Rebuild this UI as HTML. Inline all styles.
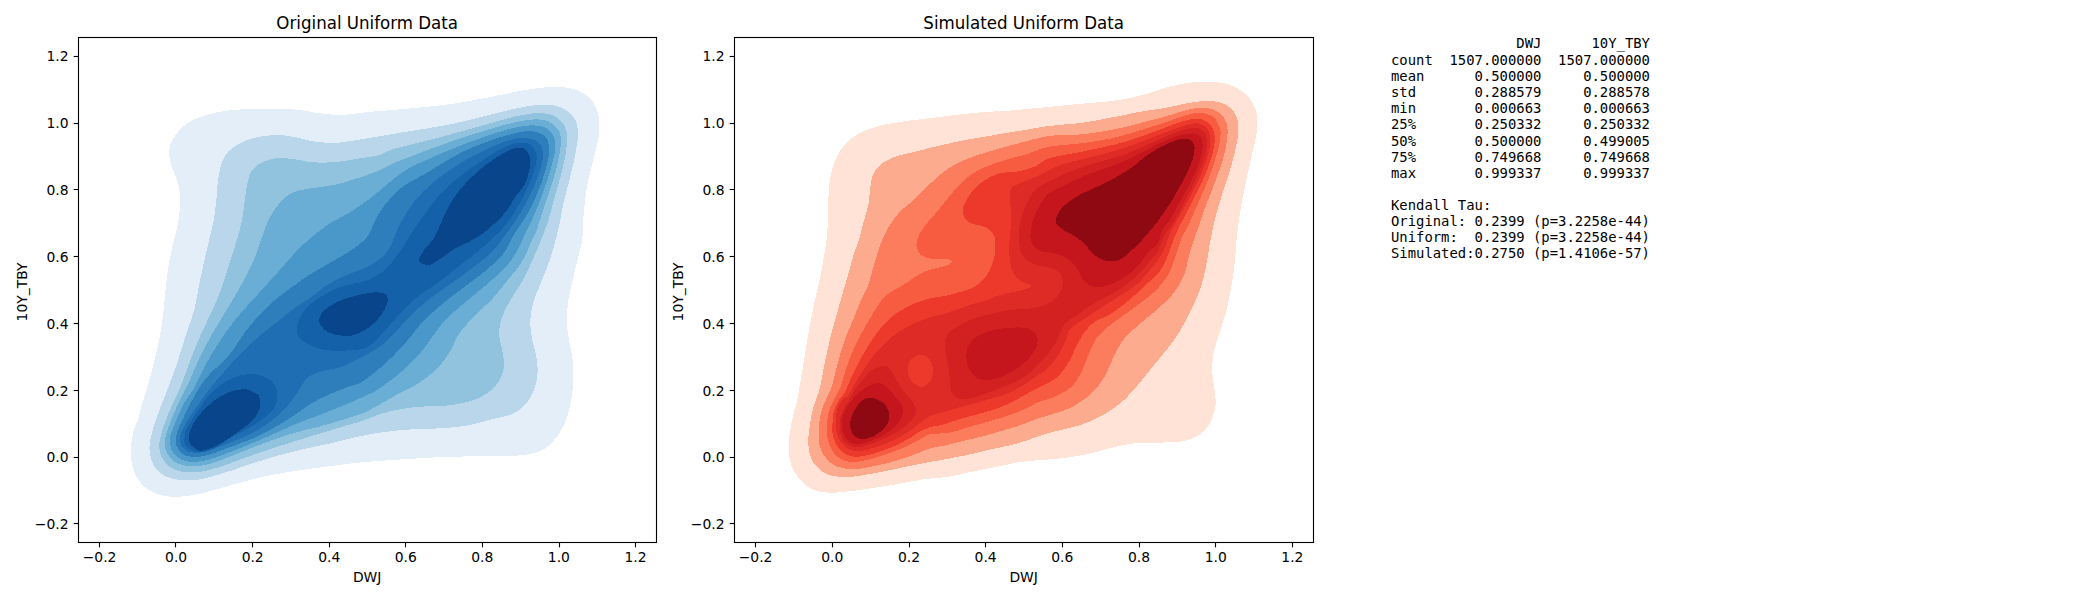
<!DOCTYPE html>
<html lang="en"><head><meta charset="utf-8"><title>Copula KDE comparison</title>
<style>html,body{margin:0;padding:0;background:#fff}svg{display:block}text{font-family:'DejaVu Sans','Liberation Sans',sans-serif;fill:#000}.m{font-family:'DejaVu Sans Mono','Liberation Mono',monospace;white-space:pre}</style></head>
<body>
<svg width="2100" height="600" viewBox="0 0 2100 600">
<rect width="2100" height="600" fill="#fff"/>
<clipPath id="ca"><rect x="78.5" y="37.5" width="578.0" height="505.0"/></clipPath>
<g clip-path="url(#ca)" shape-rendering="crispEdges">
<path d="M138.0 419.9C138.8 417.8 138.9 416.5 139.5 414.3C140.1 412.1 140.7 409.0 141.4 406.6C142.1 404.2 142.8 402.3 143.5 399.8C144.2 397.3 145.1 394.4 145.9 391.7C146.7 389.0 147.5 386.2 148.3 383.4C149.1 380.6 150.0 377.7 150.8 374.7C151.6 371.7 152.4 368.5 153.2 365.5C153.9 362.5 154.6 359.6 155.3 356.8C156.0 354.0 156.7 351.4 157.3 348.8C157.9 346.2 158.4 343.6 158.9 341.0C159.4 338.4 160.0 335.9 160.4 333.3C160.8 330.7 161.2 328.1 161.6 325.5C162.0 322.9 162.4 320.4 162.7 317.8C163.0 315.2 163.3 312.5 163.6 309.9C163.9 307.3 164.2 304.7 164.4 302.1C164.7 299.5 164.8 297.0 165.1 294.4C165.3 291.8 165.6 289.2 165.9 286.6C166.2 284.0 166.5 281.3 166.8 278.7C167.1 276.1 167.4 273.5 167.8 270.9C168.2 268.3 168.5 265.7 169.0 263.1C169.5 260.5 170.0 257.8 170.6 255.2C171.2 252.6 171.7 249.9 172.3 247.4C172.9 244.9 173.5 242.3 174.1 239.9C174.7 237.5 175.3 235.2 175.8 233.0C176.3 230.8 176.9 228.6 177.3 226.4C177.8 224.2 178.2 222.2 178.5 220.0C178.8 217.8 179.2 215.5 179.4 213.2C179.7 210.9 179.9 208.6 180.0 206.4C180.1 204.2 180.2 202.5 180.1 200.0C180.0 197.5 179.9 194.0 179.5 191.2C179.1 188.4 178.6 185.8 177.9 183.3C177.2 180.8 176.3 178.6 175.5 176.4C174.7 174.2 173.7 172.2 172.9 170.0C172.1 167.8 171.4 165.6 170.8 163.4C170.2 161.2 169.7 158.9 169.5 156.7C169.3 154.4 169.2 152.1 169.4 149.9C169.6 147.7 170.0 145.4 170.8 143.3C171.6 141.2 172.8 139.2 174.0 137.3C175.2 135.4 176.7 133.5 178.3 131.7C179.9 129.9 181.7 128.1 183.6 126.4C185.5 124.7 187.6 123.1 190.0 121.7C192.4 120.3 195.0 119.1 197.8 118.0C200.6 116.9 204.2 115.8 206.7 115.0C209.2 114.2 210.8 113.8 212.9 113.3C215.0 112.8 217.1 112.3 219.4 111.9C221.7 111.5 224.1 111.1 226.7 110.7C229.3 110.3 232.2 110.0 235.1 109.8C238.0 109.6 241.2 109.5 244.2 109.3C247.2 109.1 250.3 108.9 253.3 108.8C256.3 108.7 259.3 108.5 262.4 108.5C265.4 108.5 268.7 108.5 271.6 108.5C274.5 108.5 277.4 108.5 280.0 108.6C282.6 108.7 284.9 108.8 287.1 108.9C289.4 109.0 291.4 109.2 293.5 109.4C295.6 109.6 297.7 109.7 299.9 110.0C302.1 110.3 304.4 110.7 306.6 111.1C308.8 111.5 311.0 111.9 313.2 112.3C315.4 112.7 317.7 113.0 319.9 113.3C322.1 113.6 324.4 113.9 326.6 114.1C328.8 114.3 331.0 114.6 333.2 114.7C335.4 114.8 337.7 114.9 339.9 114.9C342.1 114.9 344.4 114.7 346.6 114.5C348.8 114.3 351.0 114.0 353.2 113.8C355.4 113.5 357.6 113.3 359.9 113.0C362.2 112.7 364.5 112.5 366.8 112.2C369.1 112.0 371.5 111.7 373.7 111.5C375.9 111.3 377.9 111.1 379.9 110.9C381.9 110.7 383.5 110.7 385.7 110.5C387.9 110.3 390.9 110.1 393.3 109.9C395.7 109.7 397.6 109.5 400.2 109.3C402.8 109.1 405.8 108.8 408.8 108.5C411.8 108.2 415.0 108.0 418.0 107.7C421.0 107.4 423.9 107.2 426.8 106.9C429.7 106.6 432.4 106.3 435.2 106.0C438.0 105.7 440.8 105.3 443.6 105.0C446.4 104.7 449.1 104.3 451.9 103.9C454.7 103.5 457.4 103.1 460.2 102.6C463.0 102.1 465.8 101.6 468.7 101.1C471.6 100.6 474.5 100.0 477.3 99.5C480.1 99.0 482.9 98.4 485.6 97.9C488.3 97.4 490.6 96.9 493.5 96.3C496.4 95.7 500.0 95.0 503.1 94.4C506.2 93.8 509.1 93.2 512.0 92.6C514.9 92.0 517.6 91.4 520.2 90.9C522.8 90.4 525.1 90.1 527.4 89.7C529.6 89.3 531.6 89.0 533.7 88.7C535.8 88.4 537.9 88.2 540.1 87.9C542.3 87.7 544.6 87.4 546.9 87.2C549.1 87.0 551.4 86.8 553.6 86.8C555.8 86.8 557.5 86.7 560.0 86.9C562.5 87.1 566.0 87.5 568.8 88.0C571.6 88.5 574.2 89.2 576.7 90.1C579.2 91.0 581.8 92.2 584.0 93.6C586.2 95.0 588.4 96.5 590.1 98.3C591.9 100.1 593.3 102.4 594.5 104.6C595.7 106.8 596.6 109.3 597.4 111.7C598.1 114.1 598.7 116.5 599.0 119.0C599.3 121.5 599.4 124.1 599.4 126.8C599.4 129.5 599.1 132.2 598.8 135.0C598.4 137.8 597.8 140.6 597.3 143.3C596.8 146.0 596.2 148.6 595.5 151.4C594.8 154.2 593.9 157.5 593.3 160.0C592.6 162.5 592.2 164.2 591.6 166.4C591.0 168.6 590.5 170.9 589.9 173.2C589.3 175.5 588.8 177.7 588.3 180.0C587.8 182.3 587.4 184.6 587.0 186.8C586.6 189.0 586.3 191.2 586.0 193.4C585.7 195.6 585.4 197.9 585.1 200.1C584.8 202.3 584.5 204.6 584.3 206.8C584.1 209.0 583.9 211.2 583.7 213.4C583.5 215.6 583.3 217.8 583.2 220.1C583.1 222.3 583.0 224.7 582.9 226.9C582.8 229.1 582.8 231.3 582.7 233.5C582.6 235.7 582.4 238.1 582.1 240.3C581.8 242.6 581.4 244.8 580.9 247.0C580.4 249.2 579.7 251.4 579.1 253.6C578.5 255.8 578.0 258.1 577.4 260.3C576.8 262.5 576.3 264.8 575.8 267.0C575.3 269.2 574.7 271.4 574.2 273.6C573.7 275.8 573.2 278.1 572.7 280.3C572.2 282.5 571.6 284.7 571.1 286.9C570.6 289.1 570.1 291.3 569.6 293.5C569.1 295.7 568.7 298.0 568.4 300.2C568.1 302.4 567.8 304.6 567.6 306.8C567.4 309.0 567.1 311.2 567.0 313.4C566.9 315.6 566.9 317.8 566.9 320.0C566.9 322.2 567.0 324.5 567.2 326.7C567.4 328.9 567.7 331.1 568.0 333.3C568.3 335.5 568.6 337.8 569.0 340.0C569.4 342.2 569.8 344.5 570.2 346.7C570.6 348.9 571.2 351.1 571.6 353.3C572.0 355.5 572.3 357.8 572.6 360.0C572.9 362.2 573.1 364.5 573.2 366.7C573.3 368.9 573.4 371.1 573.4 373.3C573.4 375.5 573.4 377.8 573.3 380.0C573.2 382.2 573.1 384.5 572.9 386.7C572.7 388.9 572.5 391.1 572.2 393.3C571.9 395.5 571.5 397.8 571.1 400.0C570.7 402.2 570.2 404.5 569.7 406.8C569.2 409.1 568.8 411.4 568.2 413.6C567.6 415.8 567.2 417.4 566.1 420.0C565.0 422.6 563.4 426.1 561.8 428.9C560.2 431.7 558.5 434.3 556.7 436.7C554.9 439.1 553.2 441.3 551.2 443.2C549.2 445.1 547.2 446.9 545.0 448.3C542.8 449.7 540.5 450.9 538.0 451.8C535.5 452.8 532.4 453.5 530.0 454.0C527.6 454.5 525.9 454.7 523.8 455.0C521.6 455.3 519.4 455.4 517.1 455.6C514.8 455.8 512.4 455.9 510.0 456.0C507.6 456.1 505.1 456.1 502.6 456.1C500.1 456.1 497.5 456.0 494.8 456.0C492.1 456.0 489.4 456.0 486.7 456.0C483.9 456.0 481.2 456.1 478.3 456.1C475.4 456.2 472.6 456.2 469.5 456.3C466.4 456.4 462.9 456.5 460.0 456.6C457.1 456.7 454.8 456.7 452.1 456.8C449.4 456.9 446.6 457.0 443.8 457.1C441.0 457.2 438.1 457.3 435.2 457.4C432.3 457.5 429.5 457.8 426.7 457.9C423.9 458.0 421.2 458.1 418.4 458.3C415.6 458.5 412.8 458.7 410.0 458.9C407.2 459.1 404.3 459.2 401.5 459.4C398.7 459.6 396.1 459.8 393.3 460.0C390.6 460.2 387.8 460.3 385.0 460.5C382.2 460.7 379.4 460.9 376.6 461.1C373.8 461.3 371.1 461.5 368.3 461.7C365.5 461.9 362.8 462.2 360.0 462.5C357.2 462.8 354.4 463.1 351.6 463.4C348.8 463.7 345.9 464.1 343.1 464.5C340.3 464.9 337.5 465.2 334.8 465.6C332.1 466.0 329.3 466.2 326.7 466.6C324.1 467.0 321.5 467.4 319.0 467.7C316.5 468.0 314.0 468.3 311.5 468.6C309.0 468.9 306.6 469.2 304.1 469.6C301.6 470.0 299.2 470.3 296.7 470.7C294.2 471.1 291.6 471.5 289.1 471.9C286.6 472.3 284.0 472.8 281.5 473.2C279.0 473.6 276.5 474.0 274.0 474.5C271.5 475.0 269.5 475.4 266.7 476.0C263.9 476.6 260.4 477.4 257.4 478.1C254.4 478.8 251.4 479.6 248.5 480.4C245.6 481.2 242.8 481.9 240.0 482.7C237.2 483.4 234.6 484.1 232.0 484.9C229.4 485.6 226.9 486.5 224.3 487.2C221.8 487.9 219.3 488.6 216.7 489.3C214.1 490.0 211.5 490.7 208.9 491.4C206.3 492.1 203.7 492.8 201.1 493.4C198.5 494.0 195.9 494.6 193.3 495.0C190.7 495.4 187.9 495.8 185.3 496.1C182.7 496.4 180.0 496.7 177.5 496.8C175.0 496.9 172.9 497.0 170.1 496.7C167.2 496.4 163.4 495.8 160.4 495.0C157.4 494.2 154.6 493.1 151.9 491.7C149.2 490.3 146.7 488.6 144.5 486.6C142.3 484.7 140.2 482.4 138.5 480.0C136.8 477.6 135.5 474.8 134.4 472.0C133.3 469.2 132.5 466.1 131.9 463.3C131.3 460.5 131.0 457.9 130.8 455.1C130.7 452.3 130.8 449.2 131.0 446.6C131.2 444.0 131.5 442.1 131.9 439.7C132.3 437.3 132.8 434.6 133.3 432.4C133.8 430.2 134.0 428.7 134.8 426.6C135.6 424.5 137.2 421.9 138.0 419.9Z" fill="#e3eef9"/>
<path d="M149.6 450.0C149.4 447.7 149.5 445.9 149.7 443.7C149.9 441.5 150.5 438.8 151.0 436.7C151.5 434.6 151.9 432.9 152.5 430.9C153.1 428.8 153.7 426.8 154.4 424.4C155.2 422.0 156.2 419.2 157.0 416.8C157.8 414.4 158.6 412.3 159.5 409.9C160.4 407.5 161.5 404.8 162.5 402.2C163.5 399.6 164.7 396.8 165.7 394.2C166.7 391.6 167.7 389.1 168.6 386.7C169.5 384.3 170.3 382.1 171.1 379.8C171.9 377.5 172.8 375.2 173.6 373.0C174.4 370.8 175.2 368.7 175.9 366.5C176.7 364.3 177.4 362.1 178.1 359.8C178.8 357.6 179.6 355.3 180.3 353.0C181.0 350.7 181.7 348.4 182.4 346.2C183.1 343.9 183.8 341.7 184.5 339.5C185.2 337.3 185.8 335.5 186.6 333.1C187.4 330.7 188.4 327.7 189.3 325.1C190.2 322.5 191.1 319.9 191.9 317.4C192.7 314.8 193.5 312.4 194.2 309.8C194.9 307.2 195.5 304.6 196.0 302.0C196.5 299.4 196.9 296.9 197.4 294.3C197.9 291.7 198.3 289.1 198.8 286.5C199.3 283.9 199.9 281.3 200.4 278.7C200.9 276.1 201.6 273.5 202.1 270.9C202.6 268.3 203.1 265.7 203.7 263.1C204.3 260.5 204.9 257.8 205.5 255.2C206.1 252.6 206.8 249.9 207.4 247.4C208.0 244.9 208.6 242.3 209.1 239.9C209.6 237.5 210.2 235.2 210.7 233.0C211.2 230.8 211.8 228.6 212.3 226.4C212.8 224.2 213.3 222.1 213.7 219.9C214.1 217.7 214.4 215.4 214.7 213.2C215.0 211.0 215.3 208.8 215.6 206.6C215.9 204.4 216.1 202.2 216.3 199.9C216.5 197.7 216.7 195.4 216.9 193.1C217.1 190.8 217.2 188.5 217.4 186.3C217.6 184.1 217.7 182.4 218.1 179.9C218.5 177.4 219.0 173.9 219.6 171.1C220.2 168.3 220.8 165.7 221.6 163.3C222.4 161.0 223.4 158.9 224.5 157.0C225.6 155.1 226.8 153.3 228.3 151.7C229.8 150.1 231.6 148.6 233.5 147.2C235.4 145.8 237.6 144.5 240.0 143.3C242.4 142.1 245.0 140.9 247.8 139.9C250.6 138.9 254.1 138.0 256.7 137.4C259.3 136.8 260.9 136.5 263.2 136.2C265.4 135.9 267.9 135.6 270.2 135.4C272.4 135.2 274.2 135.1 276.7 135.1C279.2 135.1 282.2 135.2 285.0 135.5C287.8 135.8 290.9 136.5 293.3 136.9C295.8 137.3 297.5 137.7 299.7 138.2C301.9 138.7 304.2 139.5 306.5 140.0C308.8 140.5 311.1 140.9 313.3 141.3C315.6 141.7 317.8 142.0 320.0 142.2C322.2 142.4 324.4 142.6 326.6 142.7C328.8 142.8 331.1 142.8 333.3 142.8C335.5 142.8 337.5 142.7 339.6 142.5C341.7 142.3 343.7 141.9 346.0 141.6C348.3 141.3 350.5 141.0 353.2 140.6C355.9 140.2 358.9 139.7 362.0 139.2C365.1 138.7 368.6 138.1 371.5 137.6C374.4 137.1 377.3 136.7 379.7 136.3C382.1 135.9 383.7 135.6 385.9 135.2C388.1 134.8 390.6 134.4 393.0 134.0C395.4 133.6 397.4 133.1 400.0 132.7C402.6 132.3 405.6 131.9 408.6 131.4C411.6 130.9 414.8 130.4 417.8 129.9C420.8 129.4 423.8 129.0 426.7 128.5C429.6 128.0 432.3 127.5 435.1 127.0C437.9 126.5 440.8 126.0 443.6 125.5C446.4 125.0 449.1 124.5 451.9 123.9C454.7 123.3 457.5 122.7 460.3 122.1C463.1 121.5 465.9 120.8 468.7 120.1C471.5 119.4 474.5 118.6 477.3 117.9C480.1 117.2 482.8 116.5 485.5 115.8C488.2 115.1 490.5 114.5 493.4 113.8C496.3 113.1 499.8 112.2 502.9 111.5C505.9 110.8 508.9 110.0 511.7 109.4C514.5 108.8 517.3 108.2 519.9 107.7C522.5 107.2 524.9 106.7 527.2 106.3C529.5 105.9 531.5 105.6 533.6 105.4C535.7 105.2 537.3 105.0 539.8 104.9C542.3 104.8 545.9 104.7 548.7 104.9C551.5 105.1 554.1 105.4 556.4 105.9C558.7 106.5 560.8 107.2 562.7 108.2C564.6 109.2 566.2 110.3 567.9 111.6C569.5 112.9 571.2 114.2 572.6 115.9C574.0 117.6 575.2 119.4 576.0 121.5C576.8 123.6 577.3 125.9 577.6 128.4C577.9 130.9 578.0 134.1 577.9 136.5C577.8 138.9 577.6 140.5 577.3 142.6C577.0 144.7 576.6 147.0 576.2 149.3C575.8 151.6 575.4 154.0 574.9 156.4C574.4 158.8 573.9 161.2 573.3 163.8C572.7 166.4 572.0 169.1 571.4 171.7C570.8 174.3 570.1 177.0 569.5 179.6C568.9 182.2 568.2 184.9 567.5 187.5C566.8 190.1 566.0 192.8 565.4 195.4C564.8 198.0 564.1 200.5 563.6 202.9C563.1 205.3 562.7 207.6 562.2 209.9C561.8 212.2 561.3 214.4 560.9 216.6C560.5 218.8 560.2 220.6 559.7 223.0C559.2 225.4 558.5 228.5 557.8 231.3C557.1 234.1 556.4 237.3 555.7 239.8C555.1 242.3 554.5 244.1 553.9 246.3C553.3 248.5 552.6 250.9 551.9 253.2C551.2 255.5 550.5 257.8 549.7 260.1C548.9 262.4 548.1 264.7 547.3 266.9C546.5 269.1 545.6 271.3 544.7 273.5C543.8 275.7 542.9 278.1 542.0 280.3C541.1 282.6 540.1 284.8 539.2 287.0C538.3 289.2 537.2 291.4 536.4 293.6C535.5 295.8 534.8 298.1 534.1 300.3C533.4 302.5 532.9 304.8 532.4 307.0C531.9 309.2 531.3 311.4 531.0 313.6C530.7 315.8 530.5 318.1 530.4 320.3C530.3 322.5 530.4 324.7 530.5 326.9C530.6 329.1 531.0 331.5 531.3 333.7C531.6 335.9 531.8 337.5 532.4 340.1C533.0 342.7 533.9 346.3 534.6 349.3C535.3 352.3 536.1 355.1 536.6 358.0C537.1 360.9 537.4 363.8 537.5 366.6C537.6 369.4 537.6 372.2 537.4 375.0C537.1 377.8 536.7 380.5 536.0 383.2C535.3 385.9 534.4 388.5 533.4 391.0C532.4 393.5 531.1 396.1 529.7 398.4C528.3 400.7 526.7 403.1 525.0 405.0C523.3 406.9 521.5 408.5 519.3 410.0C517.1 411.5 514.2 413.0 511.9 414.0C509.6 415.0 507.7 415.5 505.3 416.2C502.9 416.9 500.3 417.4 497.7 418.0C495.1 418.6 492.4 419.2 489.9 419.9C487.3 420.5 484.9 421.2 482.4 421.9C479.9 422.6 477.4 423.3 474.8 423.9C472.2 424.5 469.4 425.1 466.6 425.6C463.8 426.1 460.9 426.5 458.0 426.8C455.1 427.1 451.9 427.4 448.9 427.7C445.9 427.9 442.9 428.1 439.9 428.3C436.9 428.5 434.0 428.6 431.0 428.7C428.0 428.8 425.1 428.8 422.1 428.9C419.1 429.0 416.2 429.1 413.2 429.3C410.2 429.5 407.2 429.7 404.3 429.9C401.4 430.1 398.4 430.4 395.5 430.7C392.6 431.0 389.6 431.4 386.6 431.8C383.6 432.2 380.6 432.6 377.7 433.0C374.8 433.4 371.9 433.9 368.9 434.5C365.9 435.1 362.5 435.7 359.8 436.3C357.1 436.9 355.0 437.3 352.5 437.9C350.0 438.5 347.5 439.2 345.0 439.8C342.5 440.4 339.9 441.0 337.3 441.6C334.8 442.2 332.2 442.9 329.7 443.5C327.2 444.1 324.7 444.6 322.1 445.1C319.6 445.6 316.9 446.2 314.4 446.7C311.9 447.2 309.4 447.8 306.9 448.3C304.4 448.9 302.3 449.3 299.6 450.0C296.9 450.7 293.5 451.6 290.5 452.3C287.5 453.1 284.7 453.7 281.8 454.5C278.9 455.3 275.9 456.1 273.0 457.0C270.1 457.9 267.1 458.8 264.1 459.7C261.1 460.6 258.0 461.7 255.1 462.6C252.2 463.6 249.3 464.5 246.6 465.4C243.8 466.3 241.2 467.2 238.6 468.1C236.0 469.0 233.6 469.9 231.0 470.7C228.4 471.5 225.9 472.3 223.3 473.1C220.7 473.9 218.0 474.7 215.4 475.5C212.8 476.3 210.2 477.1 207.6 477.7C205.0 478.3 202.5 478.9 200.1 479.3C197.7 479.7 195.4 479.9 193.1 480.1C190.8 480.3 188.6 480.5 186.4 480.5C184.2 480.5 182.6 480.5 180.1 480.1C177.6 479.7 174.0 479.1 171.2 478.3C168.4 477.5 165.8 476.4 163.5 475.1C161.2 473.8 159.3 472.4 157.7 470.7C156.0 469.0 154.7 467.3 153.6 465.1C152.5 462.9 151.6 460.2 150.9 457.7C150.2 455.2 149.8 452.3 149.6 450.0Z" fill="#b9d6ea"/>
<path d="M159.3 445.4C159.3 443.4 159.5 441.6 159.9 439.4C160.3 437.2 161.0 434.4 161.7 432.1C162.3 429.8 163.0 427.9 163.8 425.6C164.6 423.3 165.7 420.7 166.7 418.2C167.7 415.7 168.6 413.1 169.7 410.6C170.8 408.1 171.8 405.7 173.0 403.2C174.2 400.7 175.5 398.1 176.7 395.5C177.9 392.9 179.2 389.9 180.2 387.5C181.2 385.1 182.0 383.3 182.8 381.1C183.6 378.9 184.4 376.6 185.2 374.4C186.0 372.1 186.9 369.9 187.7 367.6C188.5 365.3 189.3 363.0 190.2 360.7C191.1 358.4 192.0 356.2 192.9 353.9C193.8 351.6 194.7 349.4 195.6 347.1C196.5 344.8 197.5 342.5 198.4 340.3C199.3 338.1 200.1 336.3 201.2 333.9C202.3 331.5 203.8 328.4 205.0 325.8C206.2 323.2 207.5 320.6 208.7 318.0C209.9 315.4 211.2 312.9 212.4 310.3C213.6 307.7 214.6 305.1 215.7 302.5C216.8 299.9 217.9 297.3 219.0 294.7C220.1 292.1 221.1 289.5 222.0 286.9C222.9 284.3 223.8 281.6 224.6 279.0C225.4 276.4 226.2 273.8 227.0 271.2C227.8 268.6 228.6 265.9 229.4 263.3C230.2 260.7 231.2 258.1 232.0 255.5C232.8 252.9 233.7 250.3 234.5 247.7C235.3 245.1 236.1 242.5 236.8 240.0C237.5 237.5 238.2 235.2 238.9 232.8C239.6 230.4 240.1 228.2 240.7 225.7C241.3 223.2 241.9 220.4 242.3 218.0C242.8 215.6 243.1 213.6 243.4 211.2C243.7 208.8 244.0 206.2 244.3 203.7C244.6 201.2 245.0 198.6 245.3 196.3C245.6 194.0 245.8 192.6 246.2 190.0C246.6 187.4 247.3 183.3 248.0 180.5C248.7 177.7 249.3 175.5 250.4 173.3C251.5 171.2 252.8 169.3 254.5 167.6C256.1 165.9 258.0 164.6 260.3 163.3C262.6 162.1 265.4 160.9 268.1 160.1C270.9 159.2 274.0 158.5 276.8 158.2C279.6 157.9 282.1 158.0 284.9 158.2C287.6 158.3 290.8 158.8 293.3 159.1C295.8 159.4 297.5 159.7 299.7 160.1C301.9 160.5 304.2 161.0 306.5 161.4C308.8 161.8 310.5 162.1 313.3 162.3C316.1 162.5 319.8 162.6 323.1 162.6C326.4 162.6 330.3 162.4 333.3 162.2C336.3 162.0 338.3 161.7 340.9 161.4C343.5 161.1 346.2 160.6 348.8 160.2C351.4 159.8 354.0 159.3 356.6 158.9C359.2 158.5 362.0 158.1 364.7 157.7C367.4 157.3 370.3 156.9 372.9 156.4C375.4 155.9 377.8 155.5 380.0 154.8C382.2 154.1 383.8 153.2 386.0 152.2C388.2 151.2 391.0 149.8 393.4 149.0C395.8 148.2 397.7 147.8 400.3 147.1C402.9 146.4 405.9 145.7 408.9 145.0C411.9 144.3 415.1 143.4 418.1 142.7C421.1 142.0 424.0 141.3 426.9 140.6C429.8 139.9 432.4 139.2 435.2 138.5C438.0 137.8 440.9 137.0 443.7 136.2C446.5 135.4 449.2 134.7 452.0 133.9C454.8 133.2 457.5 132.4 460.3 131.7C463.1 130.9 465.9 130.2 468.8 129.4C471.7 128.6 474.7 127.7 477.5 126.9C480.3 126.1 483.2 125.2 485.8 124.5C488.4 123.8 490.6 123.2 493.3 122.4C496.0 121.7 499.2 120.7 501.9 120.0C504.6 119.3 506.9 118.6 509.3 118.0C511.7 117.4 514.0 116.8 516.4 116.3C518.8 115.8 521.2 115.3 523.5 114.9C525.8 114.5 528.0 114.1 530.1 113.8C532.2 113.5 533.9 113.3 536.2 113.2C538.6 113.1 541.8 113.1 544.2 113.4C546.7 113.7 548.8 114.1 550.9 114.8C553.0 115.5 555.0 116.3 556.7 117.4C558.4 118.5 559.9 119.9 561.2 121.4C562.5 122.9 563.8 124.6 564.7 126.5C565.6 128.4 566.3 130.5 566.7 132.8C567.1 135.1 567.2 137.6 567.1 140.4C567.0 143.2 566.6 146.7 566.3 149.4C566.0 152.1 565.7 154.0 565.2 156.5C564.7 159.0 564.1 161.6 563.5 164.3C562.9 167.0 562.3 169.7 561.6 172.5C560.9 175.3 560.1 178.3 559.3 181.3C558.5 184.3 557.5 187.5 556.6 190.5C555.7 193.5 554.9 196.4 554.1 199.2C553.3 201.9 552.7 204.5 552.0 207.0C551.3 209.5 550.8 211.9 550.1 214.3C549.5 216.7 548.8 219.0 548.1 221.2C547.4 223.4 546.6 225.6 545.8 227.7C545.0 229.8 544.3 231.7 543.5 233.8C542.7 235.9 541.8 237.9 540.9 240.1C540.0 242.3 539.2 244.5 538.3 246.8C537.3 249.1 536.2 251.5 535.2 253.8C534.2 256.1 533.2 258.3 532.2 260.5C531.2 262.7 530.4 265.0 529.4 267.1C528.4 269.2 527.5 271.3 526.4 273.4C525.3 275.5 524.2 277.7 523.0 279.8C521.8 281.9 520.5 284.1 519.1 286.2C517.8 288.3 516.2 290.4 514.9 292.5C513.6 294.6 512.4 296.8 511.1 299.0C509.9 301.2 508.6 303.4 507.4 305.6C506.2 307.8 505.0 310.2 504.0 312.4C503.0 314.6 502.3 316.3 501.6 318.8C500.9 321.3 500.0 324.7 499.6 327.5C499.2 330.3 499.0 333.0 499.2 335.8C499.4 338.6 500.2 341.5 500.8 344.3C501.4 347.1 502.2 350.0 502.7 352.7C503.2 355.4 503.6 357.9 503.8 360.5C504.0 363.1 504.1 365.4 503.7 368.0C503.3 370.6 502.6 373.3 501.6 375.8C500.6 378.3 499.3 380.9 497.6 383.2C495.9 385.5 493.8 387.7 491.6 389.7C489.4 391.7 486.8 393.5 484.2 395.1C481.6 396.7 479.0 398.0 476.2 399.1C473.4 400.2 469.9 401.2 467.3 401.9C464.8 402.6 463.1 402.9 460.9 403.4C458.7 403.8 456.4 404.2 454.1 404.6C451.8 405.0 449.4 405.3 447.0 405.5C444.6 405.7 442.0 405.9 439.4 406.0C436.8 406.1 434.0 406.0 431.4 406.1C428.8 406.2 426.1 406.3 423.5 406.5C420.9 406.7 418.2 406.8 415.6 407.1C413.0 407.4 410.3 407.8 407.7 408.1C405.1 408.5 402.6 408.8 400.2 409.2C397.8 409.6 395.5 410.1 393.2 410.6C390.9 411.1 388.7 411.7 386.5 412.3C384.3 412.9 382.7 413.3 380.2 414.1C377.7 414.9 374.3 416.2 371.5 417.3C368.7 418.4 366.0 419.6 363.4 420.5C360.8 421.4 358.5 422.0 355.7 422.8C352.9 423.6 349.6 424.6 346.8 425.4C344.0 426.2 341.5 426.9 338.6 427.8C335.7 428.7 332.5 429.7 329.4 430.6C326.3 431.6 323.1 432.6 320.0 433.5C316.9 434.4 314.1 435.3 311.1 436.2C308.1 437.1 305.2 438.1 302.2 439.0C299.2 439.9 296.3 440.9 293.3 441.8C290.3 442.7 287.3 443.7 284.3 444.6C281.3 445.5 278.2 446.4 275.3 447.3C272.4 448.2 269.6 449.2 266.8 450.1C264.1 451.1 261.4 452.1 258.8 453.0C256.2 453.9 253.7 454.8 251.1 455.7C248.5 456.6 246.0 457.5 243.4 458.4C240.8 459.3 238.1 460.3 235.5 461.3C232.9 462.3 230.2 463.3 227.6 464.2C225.0 465.1 222.5 466.0 220.1 466.8C217.7 467.6 215.4 468.3 213.1 468.9C210.8 469.5 208.5 470.1 206.3 470.6C204.1 471.1 202.5 471.5 200.0 471.8C197.5 472.1 194.0 472.5 191.2 472.5C188.4 472.5 185.8 472.3 183.3 471.9C180.8 471.5 178.3 470.8 176.1 470.0C173.9 469.2 171.8 468.3 170.0 467.0C168.2 465.7 166.6 464.1 165.2 462.4C163.8 460.7 162.6 458.8 161.7 457.0C160.8 455.2 160.2 453.4 159.8 451.5C159.4 449.6 159.3 447.4 159.3 445.4Z" fill="#91c3de"/>
<path d="M164.7 441.8C164.5 438.9 165.2 437.9 165.8 435.7C166.4 433.5 167.3 430.7 168.1 428.4C168.9 426.1 169.6 424.3 170.5 422.0C171.4 419.7 172.5 417.0 173.5 414.5C174.5 412.0 175.6 409.4 176.7 406.9C177.8 404.4 179.0 401.9 180.3 399.4C181.6 396.8 183.0 394.3 184.3 391.6C185.6 388.9 187.2 385.8 188.3 383.4C189.5 381.0 190.2 379.2 191.2 377.0C192.1 374.8 193.0 372.5 194.0 370.2C195.0 367.9 196.1 365.6 197.1 363.4C198.1 361.2 199.1 359.0 200.2 356.8C201.3 354.6 202.4 352.4 203.5 350.2C204.6 348.0 205.8 345.6 207.0 343.4C208.2 341.2 209.4 338.9 210.6 336.8C211.8 334.7 212.8 332.9 214.2 330.5C215.6 328.1 217.3 325.2 218.9 322.6C220.5 320.0 222.0 317.4 223.5 314.9C225.0 312.4 226.5 309.9 228.1 307.4C229.7 304.9 231.2 302.3 232.8 299.7C234.4 297.1 235.9 294.5 237.4 291.9C238.9 289.3 240.4 286.8 241.8 284.2C243.2 281.6 244.6 278.9 246.0 276.3C247.4 273.7 248.8 270.9 250.0 268.3C251.2 265.7 252.5 263.1 253.5 260.7C254.5 258.3 255.4 256.0 256.2 253.7C257.0 251.4 257.7 249.2 258.5 247.0C259.3 244.8 260.0 242.6 260.8 240.3C261.6 238.0 262.5 235.6 263.3 233.3C264.1 231.0 264.9 228.5 265.8 226.3C266.7 224.1 267.3 222.4 268.6 219.9C269.9 217.4 271.8 213.8 273.6 211.1C275.4 208.4 277.4 205.8 279.3 203.5C281.2 201.2 283.1 199.1 285.3 197.3C287.5 195.5 290.4 193.8 292.6 192.7C294.8 191.6 296.5 191.3 298.7 190.7C300.9 190.1 303.2 189.6 305.6 189.2C308.0 188.8 310.5 188.5 313.0 188.1C315.5 187.7 318.1 187.4 320.7 187.0C323.3 186.6 326.0 186.2 328.7 185.8C331.4 185.4 334.0 184.9 336.6 184.3C339.2 183.7 341.9 183.1 344.5 182.3C347.1 181.6 349.8 180.6 352.4 179.8C355.0 179.0 357.4 178.2 359.9 177.4C362.3 176.6 364.8 175.8 367.1 175.0C369.4 174.2 371.8 173.3 373.9 172.5C376.0 171.7 378.0 171.2 380.0 170.3C382.0 169.4 383.6 168.2 385.9 167.0C388.2 165.8 391.2 164.1 393.6 163.0C396.1 161.9 398.0 161.3 400.6 160.3C403.2 159.3 406.3 158.2 409.3 157.0C412.3 155.8 415.5 154.6 418.5 153.4C421.5 152.2 424.4 151.2 427.3 150.1C430.2 149.0 432.8 148.0 435.6 147.0C438.4 146.0 441.1 145.1 443.9 144.1C446.6 143.1 449.4 142.1 452.1 141.2C454.8 140.2 457.5 139.3 460.3 138.4C463.1 137.5 466.0 136.5 468.8 135.6C471.6 134.7 474.6 133.8 477.4 132.9C480.2 132.0 483.0 131.1 485.7 130.3C488.4 129.5 490.6 128.8 493.3 128.0C496.0 127.2 499.2 126.3 501.9 125.6C504.6 124.9 507.0 124.3 509.4 123.7C511.8 123.1 513.6 122.6 516.4 122.0C519.2 121.4 523.0 120.6 526.0 120.2C529.0 119.8 531.7 119.5 534.4 119.4C537.1 119.4 539.8 119.5 542.3 119.9C544.8 120.3 546.5 120.1 549.1 121.6C551.7 123.1 556.0 126.9 557.9 129.1C559.8 131.2 559.7 132.4 560.2 134.5C560.7 136.6 560.9 138.8 560.9 141.4C560.9 144.0 560.6 146.8 560.2 149.8C559.8 152.8 559.0 156.8 558.4 159.6C557.8 162.4 557.4 164.4 556.8 166.9C556.2 169.4 555.5 172.0 554.7 174.7C553.9 177.3 553.0 180.4 552.2 182.8C551.4 185.2 550.8 187.1 550.1 189.4C549.4 191.7 548.6 194.1 547.8 196.4C547.0 198.7 546.2 201.1 545.5 203.3C544.8 205.5 544.2 207.3 543.4 209.7C542.6 212.0 541.7 214.9 540.9 217.4C540.1 219.9 539.2 222.3 538.5 224.5C537.8 226.7 537.8 227.8 536.6 230.5C535.5 233.2 532.9 238.1 531.6 240.9C530.3 243.7 530.0 244.8 529.0 247.1C528.0 249.3 527.0 252.0 525.8 254.4C524.6 256.8 523.3 259.2 521.9 261.5C520.5 263.8 519.1 266.0 517.5 268.1C515.9 270.2 514.2 272.3 512.5 274.4C510.8 276.5 508.9 278.7 507.2 280.8C505.4 282.9 503.8 285.1 502.0 287.2C500.2 289.3 498.5 291.6 496.7 293.7C494.9 295.8 493.1 298.0 491.2 300.0C489.3 302.0 487.2 303.9 485.2 305.8C483.2 307.7 481.1 309.6 479.1 311.5C477.1 313.4 475.1 315.2 473.3 317.1C471.5 319.0 469.8 320.9 468.1 322.8C466.4 324.7 464.7 326.6 463.1 328.5C461.6 330.4 460.2 331.8 458.8 334.1C457.4 336.4 455.9 339.7 454.5 342.5C453.1 345.3 451.7 348.6 450.4 351.0C449.1 353.4 447.9 354.9 446.5 356.9C445.1 358.9 443.7 361.0 442.1 362.9C440.5 364.8 438.9 366.7 437.1 368.5C435.3 370.3 433.4 372.1 431.3 373.8C429.2 375.5 427.0 377.2 424.8 378.8C422.6 380.4 420.3 382.1 417.9 383.6C415.5 385.1 413.0 386.5 410.5 387.9C408.0 389.2 405.3 390.4 402.8 391.7C400.3 393.0 397.8 394.2 395.4 395.5C393.0 396.8 390.7 398.2 388.4 399.5C386.1 400.8 383.9 402.1 381.8 403.3C379.7 404.5 378.1 405.4 375.9 406.6C373.7 407.8 370.9 409.4 368.7 410.5C366.5 411.6 365.4 412.4 362.7 413.4C360.0 414.4 355.2 415.7 352.6 416.5C350.0 417.3 349.1 417.7 347.0 418.4C344.9 419.1 342.3 419.9 339.9 420.7C337.5 421.5 334.9 422.3 332.4 423.0C329.9 423.7 327.4 424.5 325.0 425.1C322.6 425.8 320.3 426.3 318.0 426.9C315.7 427.5 313.5 428.1 311.2 428.6C308.9 429.2 306.6 429.6 304.3 430.2C302.0 430.8 299.7 431.5 297.4 432.1C295.1 432.8 292.8 433.4 290.5 434.1C288.2 434.8 285.7 435.6 283.4 436.4C281.1 437.2 278.8 437.9 276.6 438.7C274.4 439.5 272.5 440.1 270.1 441.0C267.7 441.9 264.7 443.0 262.1 444.0C259.5 445.0 256.9 445.9 254.3 446.9C251.7 447.9 249.3 448.9 246.7 449.9C244.1 450.9 241.4 452.0 238.7 453.1C236.0 454.2 233.3 455.4 230.7 456.4C228.1 457.4 226.0 458.2 223.2 459.3C220.3 460.4 216.6 461.8 213.6 462.7C210.6 463.6 207.8 464.4 204.9 465.0C202.0 465.6 198.9 466.0 196.1 466.2C193.3 466.4 190.6 466.4 188.0 466.1C185.4 465.8 183.0 465.2 180.8 464.5C178.6 463.8 177.0 463.7 174.7 461.8C172.4 459.9 168.7 456.7 167.0 453.4C165.3 450.1 164.9 444.8 164.7 441.8Z" fill="#6aaed6"/>
<path d="M169.8 439.4C169.8 436.7 170.5 435.7 171.2 433.4C171.9 431.1 173.0 428.2 174.0 425.8C175.0 423.4 175.9 421.2 177.0 418.7C178.1 416.2 179.3 413.2 180.5 410.6C181.7 408.0 182.6 405.7 183.9 403.3C185.2 400.9 186.9 398.8 188.5 396.5C190.1 394.2 191.9 391.7 193.3 389.3C194.7 386.9 195.7 384.6 197.0 382.0C198.3 379.4 199.7 376.2 201.1 373.4C202.5 370.6 204.0 367.7 205.5 365.0C207.0 362.3 208.4 359.7 210.0 357.0C211.6 354.3 213.2 351.6 214.9 349.0C216.6 346.4 218.5 343.4 220.0 341.1C221.5 338.8 222.7 337.2 224.0 335.2C225.3 333.2 226.7 331.2 228.1 329.3C229.5 327.4 230.9 325.4 232.4 323.5C233.9 321.6 235.3 319.6 236.9 317.7C238.5 315.8 240.1 313.8 241.8 311.9C243.5 310.0 245.2 308.1 246.9 306.2C248.6 304.3 250.4 302.2 252.2 300.3C253.9 298.4 255.6 296.6 257.4 294.7C259.1 292.8 260.9 290.8 262.7 288.9C264.5 286.9 266.2 284.9 268.0 283.0C269.8 281.1 271.5 279.1 273.2 277.2C274.9 275.3 276.4 273.9 278.2 271.8C280.0 269.8 282.2 267.1 284.2 264.9C286.1 262.7 288.0 260.5 289.9 258.4C291.8 256.3 293.6 254.3 295.5 252.3C297.4 250.3 299.3 248.4 301.2 246.6C303.1 244.8 304.9 243.1 306.8 241.4C308.7 239.7 310.7 238.0 312.7 236.3C314.7 234.6 316.9 232.9 319.0 231.2C321.1 229.5 323.5 227.8 325.6 226.3C327.7 224.8 329.4 223.6 331.7 222.2C334.0 220.8 336.7 219.4 339.3 218.1C341.9 216.8 344.7 215.5 347.1 214.1C349.5 212.7 351.5 211.2 353.9 209.7C356.2 208.1 358.9 206.4 361.2 204.8C363.5 203.2 365.6 201.7 367.8 200.1C370.0 198.5 372.1 196.8 374.4 195.0C376.6 193.2 379.3 190.9 381.3 189.2C383.3 187.5 384.5 186.5 386.4 185.0C388.2 183.5 390.4 181.8 392.4 180.1C394.4 178.4 396.6 176.6 398.6 175.0C400.7 173.4 402.4 172.2 404.7 170.8C406.9 169.4 409.6 167.8 412.1 166.5C414.6 165.2 417.0 164.2 419.6 163.0C422.2 161.8 425.3 160.5 428.0 159.3C430.7 158.1 433.0 157.1 435.6 155.9C438.2 154.7 441.1 153.5 443.9 152.3C446.7 151.1 449.7 150.0 452.5 148.8C455.3 147.7 458.1 146.5 460.9 145.4C463.7 144.3 466.6 143.2 469.4 142.1C472.2 141.0 475.1 140.1 477.9 139.1C480.7 138.1 483.5 137.2 486.1 136.3C488.7 135.4 490.8 134.6 493.5 133.7C496.2 132.8 499.5 131.8 502.2 131.0C504.9 130.2 507.4 129.5 509.8 128.9C512.2 128.3 514.0 127.8 516.6 127.3C519.2 126.8 522.6 126.1 525.3 125.8C528.0 125.5 530.4 125.4 532.9 125.4C535.4 125.5 537.8 125.7 540.0 126.1C542.2 126.5 543.7 126.4 545.9 127.9C548.1 129.4 551.7 131.9 553.3 135.0C554.9 138.1 555.4 143.3 555.5 146.6C555.6 149.9 554.8 152.0 554.2 155.0C553.6 158.0 552.5 161.9 551.8 164.7C551.1 167.4 550.7 169.2 550.0 171.5C549.3 173.8 548.6 176.2 547.8 178.7C547.0 181.2 546.1 183.7 545.2 186.3C544.3 188.9 543.4 191.7 542.4 194.5C541.4 197.3 540.2 200.3 539.1 203.1C538.0 205.9 536.9 208.7 535.7 211.4C534.5 214.1 533.3 216.8 532.1 219.5C530.9 222.2 529.6 224.7 528.4 227.3C527.1 229.9 525.8 232.5 524.6 235.1C523.4 237.7 522.3 240.2 521.1 242.7C519.9 245.2 518.9 247.7 517.6 250.1C516.3 252.5 514.9 254.9 513.4 257.1C511.9 259.3 510.2 261.4 508.5 263.5C506.8 265.6 504.9 267.4 503.0 269.4C501.1 271.4 499.0 273.4 496.9 275.4C494.8 277.4 492.6 279.4 490.4 281.4C488.1 283.4 485.8 285.4 483.4 287.3C481.0 289.2 478.7 291.2 476.3 293.1C473.9 295.1 471.6 297.0 469.2 299.0C466.8 301.0 464.4 302.9 462.1 304.9C459.8 306.8 457.5 308.8 455.4 310.7C453.3 312.6 451.3 314.4 449.4 316.3C447.5 318.2 445.6 319.9 443.9 321.8C442.1 323.7 440.5 325.7 438.9 327.7C437.3 329.7 435.9 331.8 434.4 333.8C432.9 335.9 431.6 337.9 430.1 340.0C428.6 342.1 427.2 344.2 425.6 346.3C424.0 348.4 422.2 350.6 420.4 352.7C418.6 354.8 416.7 356.9 414.8 359.0C412.9 361.1 411.0 363.1 409.0 365.0C407.0 366.9 404.8 368.9 402.7 370.7C400.6 372.5 398.3 374.3 396.2 376.0C394.1 377.7 391.9 379.3 389.8 380.9C387.7 382.5 385.7 384.0 383.7 385.4C381.7 386.8 379.8 388.2 378.0 389.4C376.2 390.6 375.4 391.2 372.9 392.5C370.3 393.8 366.1 395.4 362.7 397.0C359.3 398.6 355.1 400.6 352.4 401.8C349.7 403.0 348.8 403.2 346.6 404.1C344.5 405.0 341.9 406.0 339.5 407.0C337.1 408.0 334.5 409.1 332.0 410.1C329.5 411.1 327.1 412.1 324.7 413.0C322.3 413.9 320.1 414.8 317.8 415.7C315.5 416.6 313.3 417.4 311.1 418.2C308.9 419.0 306.6 419.8 304.4 420.7C302.1 421.6 299.9 422.4 297.6 423.3C295.4 424.2 293.2 425.2 290.9 426.2C288.6 427.2 286.2 428.3 283.9 429.3C281.6 430.3 279.3 431.3 277.1 432.3C274.9 433.3 273.1 434.1 270.7 435.2C268.3 436.3 265.2 437.6 262.5 438.8C259.8 440.0 257.2 441.1 254.6 442.2C252.0 443.3 249.6 444.3 247.0 445.4C244.4 446.4 241.8 447.5 239.2 448.5C236.6 449.5 234.1 450.6 231.7 451.5C229.3 452.4 227.4 453.1 224.6 454.2C221.8 455.2 217.8 456.8 214.7 457.8C211.6 458.8 208.7 459.7 205.8 460.3C203.0 460.9 200.2 461.4 197.6 461.7C195.0 462.0 192.7 462.1 190.4 461.9C188.1 461.7 186.0 461.2 184.0 460.5C182.0 459.8 180.7 459.7 178.6 457.9C176.5 456.1 172.9 452.6 171.4 449.5C169.9 446.4 169.8 442.1 169.8 439.4Z" fill="#4a98c9"/>
<path d="M176.2 435.9C176.6 432.9 177.7 430.8 178.8 427.9C179.9 425.0 181.8 421.4 183.0 418.7C184.2 416.0 185.1 414.1 186.3 411.7C187.5 409.3 188.8 406.6 190.1 404.1C191.4 401.6 192.7 399.2 194.0 396.8C195.3 394.4 196.5 392.2 197.9 390.0C199.3 387.8 200.6 385.6 202.2 383.4C203.8 381.2 205.8 378.8 207.4 376.8C209.1 374.9 210.4 373.4 212.1 371.7C213.8 370.0 215.7 368.4 217.5 366.7C219.3 365.0 221.3 363.2 223.1 361.5C224.9 359.8 226.6 358.1 228.2 356.2C229.8 354.3 231.2 352.3 232.7 350.3C234.1 348.3 235.5 346.3 236.9 344.2C238.3 342.1 239.6 339.9 241.0 337.9C242.4 335.8 243.8 333.8 245.2 331.9C246.6 329.9 248.1 328.0 249.6 326.2C251.1 324.4 252.6 322.6 254.1 320.8C255.6 319.0 257.2 317.3 258.8 315.6C260.4 313.9 262.0 312.2 263.7 310.5C265.4 308.8 267.1 307.2 268.8 305.6C270.5 304.0 272.3 302.3 274.1 300.7C275.9 299.1 277.8 297.7 279.7 296.2C281.6 294.7 283.3 293.5 285.5 291.9C287.7 290.2 290.6 288.1 293.1 286.3C295.6 284.5 298.1 282.6 300.6 280.8C303.1 279.0 305.7 277.3 308.2 275.7C310.7 274.1 313.2 272.7 315.6 271.2C318.1 269.7 320.4 268.3 322.9 266.9C325.3 265.5 327.8 264.0 330.3 262.6C332.8 261.2 335.3 259.8 337.8 258.3C340.3 256.9 342.9 255.4 345.3 253.9C347.7 252.4 350.1 251.0 352.2 249.6C354.3 248.2 356.3 246.7 358.1 245.3C359.9 243.9 361.7 242.4 363.2 241.0C364.7 239.6 366.0 238.6 367.3 236.8C368.6 235.0 369.8 232.5 370.9 230.3C372.0 228.1 372.6 225.9 373.7 223.5C374.8 221.1 376.0 218.7 377.5 216.1C379.0 213.5 380.9 210.4 382.6 208.0C384.3 205.6 385.9 203.8 387.7 201.6C389.5 199.4 391.6 196.8 393.7 194.6C395.8 192.4 398.0 190.3 400.4 188.4C402.8 186.5 405.2 185.0 407.8 183.4C410.4 181.8 413.0 180.5 415.7 179.0C418.4 177.5 421.5 175.9 423.9 174.5C426.3 173.1 428.1 172.1 430.1 170.8C432.2 169.6 434.1 168.3 436.2 167.0C438.3 165.7 440.5 164.5 442.6 163.2C444.8 161.9 446.9 160.5 449.1 159.2C451.3 157.9 453.6 156.7 455.9 155.4C458.2 154.2 460.7 152.9 463.1 151.7C465.5 150.5 468.1 149.4 470.5 148.3C472.9 147.2 474.9 146.4 477.6 145.3C480.3 144.2 483.8 142.9 486.8 141.8C489.8 140.7 492.8 139.6 495.6 138.7C498.4 137.8 501.1 136.9 503.7 136.2C506.3 135.4 508.8 134.8 511.1 134.2C513.4 133.6 515.6 132.9 517.7 132.5C519.8 132.1 521.3 131.7 523.5 131.5C525.7 131.3 528.7 131.2 530.9 131.3C533.1 131.4 534.3 131.1 536.8 132.2C539.3 133.3 544.0 135.0 546.1 137.7C548.2 140.4 549.0 145.5 549.4 148.6C549.8 151.7 549.0 153.5 548.6 156.3C548.2 159.1 547.3 162.6 546.7 165.2C546.1 167.8 545.6 169.6 544.9 171.9C544.2 174.2 543.4 176.8 542.6 179.3C541.8 181.8 541.0 184.2 540.0 186.7C539.0 189.2 538.0 191.8 536.9 194.4C535.8 197.0 534.7 199.6 533.5 202.2C532.3 204.8 531.2 207.2 529.8 209.8C528.4 212.4 526.8 215.1 525.2 217.7C523.6 220.3 521.6 223.1 520.1 225.4C518.6 227.7 517.5 229.3 516.2 231.3C514.9 233.3 513.5 235.5 512.4 237.4C511.3 239.3 510.7 240.6 509.7 242.5C508.7 244.4 507.7 246.8 506.4 249.0C505.1 251.2 503.8 253.3 502.1 255.4C500.4 257.4 498.4 259.4 496.4 261.3C494.3 263.2 492.0 265.2 489.8 267.1C487.6 269.0 485.3 271.0 483.0 272.8C480.7 274.6 478.5 276.4 476.2 278.2C473.9 280.0 471.4 281.7 469.1 283.4C466.8 285.1 464.5 286.9 462.2 288.6C459.9 290.3 457.6 292.0 455.3 293.8C453.0 295.6 450.6 297.4 448.3 299.2C446.0 301.0 443.8 302.8 441.6 304.6C439.4 306.4 437.3 308.3 435.2 310.1C433.1 311.9 431.0 313.7 429.0 315.6C427.0 317.5 425.0 319.4 423.2 321.3C421.4 323.2 419.7 325.1 418.1 327.0C416.5 328.9 415.0 331.0 413.5 333.0C412.0 335.0 410.5 336.9 408.9 338.8C407.3 340.7 405.6 342.6 403.9 344.5C402.2 346.4 400.4 348.3 398.7 350.1C397.0 351.9 395.4 353.7 393.6 355.5C391.8 357.3 390.0 359.0 388.1 360.7C386.2 362.4 384.3 364.2 382.4 365.9C380.5 367.5 379.2 368.7 376.9 370.6C374.6 372.5 371.3 375.2 368.6 377.2C365.9 379.2 363.2 381.2 360.9 382.5C358.6 383.8 356.9 384.2 354.7 384.9C352.5 385.6 350.1 386.1 347.9 386.9C345.7 387.6 343.8 388.5 341.6 389.4C339.4 390.3 336.9 391.2 334.6 392.2C332.3 393.1 330.4 394.0 327.9 395.1C325.4 396.2 322.1 397.6 319.4 399.0C316.6 400.4 314.1 401.9 311.4 403.5C308.7 405.1 306.1 406.9 303.4 408.8C300.7 410.7 297.4 413.1 295.0 414.8C292.6 416.5 291.0 417.5 288.9 418.9C286.8 420.2 284.6 421.5 282.3 422.9C280.0 424.2 277.8 425.6 275.3 427.0C272.9 428.4 270.2 429.8 267.6 431.2C265.0 432.6 262.2 434.0 259.5 435.3C256.8 436.6 254.1 437.9 251.4 439.0C248.7 440.1 246.1 441.1 243.5 442.1C240.9 443.1 238.3 444.2 235.8 445.1C233.3 446.0 231.4 446.6 228.5 447.7C225.6 448.8 221.7 450.4 218.5 451.5C215.3 452.6 212.3 453.8 209.5 454.6C206.7 455.4 204.0 456.1 201.4 456.5C198.8 456.9 196.5 457.2 194.2 457.1C191.9 457.0 189.6 456.7 187.7 456.1C185.8 455.6 184.3 455.5 182.5 453.8C180.7 452.1 177.7 449.0 176.6 446.0C175.5 443.0 175.8 438.9 176.2 435.9Z" fill="#2e7ebc"/>
<path d="M180.1 437.5C180.2 435.1 181.1 433.5 182.0 431.3C182.9 429.1 184.0 426.6 185.4 424.1C186.8 421.6 188.4 418.9 190.2 416.2C192.0 413.4 194.4 410.1 196.1 407.6C197.8 405.1 199.0 403.4 200.6 401.2C202.2 399.0 203.9 396.5 205.5 394.3C207.1 392.1 208.8 389.9 210.4 387.9C212.0 385.9 213.5 384.0 215.1 382.1C216.7 380.2 218.2 378.5 219.8 376.7C221.4 374.9 222.9 373.2 224.4 371.5C225.9 369.8 227.5 368.0 229.0 366.3C230.5 364.6 231.9 362.9 233.4 361.3C234.9 359.7 236.0 358.4 237.9 356.5C239.8 354.6 242.6 351.8 244.8 349.7C247.0 347.6 249.3 345.4 251.2 343.6C253.1 341.8 254.3 340.6 256.0 339.1C257.6 337.6 259.4 336.0 261.1 334.6C262.8 333.2 264.4 332.0 266.2 330.6C268.0 329.2 270.1 327.5 272.0 326.0C273.9 324.5 275.9 323.0 277.8 321.5C279.7 320.0 281.5 318.6 283.3 317.1C285.1 315.6 287.0 314.0 288.8 312.5C290.6 311.0 292.0 309.8 294.3 308.2C296.6 306.6 299.7 304.6 302.4 302.8C305.1 301.0 308.4 299.1 310.7 297.5C313.0 295.9 314.2 294.7 316.0 293.3C317.8 291.9 319.5 290.5 321.3 289.1C323.1 287.7 325.0 286.4 327.0 285.1C329.0 283.8 331.2 282.7 333.4 281.5C335.6 280.3 337.8 279.1 340.1 278.0C342.4 276.9 344.7 275.8 347.0 274.8C349.3 273.8 351.6 273.1 353.9 272.2C356.2 271.3 358.5 270.6 360.8 269.7C363.1 268.8 365.3 267.9 367.5 266.8C369.7 265.7 371.8 264.3 373.9 263.0C375.9 261.7 378.0 260.4 379.8 259.0C381.6 257.6 383.2 256.5 384.8 254.7C386.4 252.9 388.1 250.4 389.4 248.2C390.7 246.0 391.6 243.7 392.7 241.3C393.8 238.9 394.6 236.5 395.7 233.8C396.8 231.1 398.1 227.9 399.4 225.3C400.7 222.7 402.0 220.7 403.5 218.2C405.0 215.7 406.5 212.9 408.2 210.3C409.9 207.7 411.9 204.8 413.5 202.7C415.1 200.6 416.3 199.3 417.8 197.6C419.3 195.9 420.7 194.3 422.3 192.7C423.9 191.1 425.6 189.4 427.3 187.8C429.0 186.2 430.7 184.7 432.6 183.1C434.5 181.5 436.5 179.8 438.6 178.2C440.7 176.6 442.8 175.0 445.0 173.4C447.2 171.8 449.6 170.3 451.8 168.8C454.0 167.3 456.2 165.8 458.4 164.4C460.6 163.0 462.7 161.7 464.9 160.4C467.1 159.1 469.4 157.9 471.6 156.7C473.8 155.5 476.0 154.4 478.1 153.3C480.2 152.2 482.0 151.3 484.4 150.2C486.8 149.1 489.9 147.7 492.5 146.5C495.1 145.3 497.8 144.3 500.3 143.3C502.8 142.3 504.6 141.5 507.3 140.7C510.0 139.9 513.5 139.0 516.2 138.5C518.9 138.0 520.5 137.5 523.7 137.8C526.9 138.1 532.2 138.6 535.2 140.2C538.2 141.8 540.5 144.3 541.8 147.4C543.0 150.5 542.8 155.5 542.7 158.8C542.6 162.1 541.8 164.2 541.0 167.2C540.2 170.2 538.9 174.1 537.9 176.8C536.9 179.5 536.2 181.2 535.3 183.5C534.4 185.8 533.4 188.2 532.3 190.6C531.2 193.0 530.0 195.3 528.8 197.7C527.6 200.1 526.3 202.5 525.0 204.9C523.7 207.3 522.2 209.8 520.8 212.2C519.4 214.5 518.0 216.9 516.6 219.0C515.2 221.1 513.9 223.1 512.5 225.0C511.1 226.9 509.9 228.8 508.5 230.6C507.1 232.4 505.8 234.2 504.4 236.1C503.0 237.9 501.8 239.8 500.4 241.7C499.0 243.6 497.7 245.5 496.1 247.3C494.6 249.2 493.0 250.9 491.1 252.8C489.2 254.7 486.9 256.7 484.6 258.6C482.3 260.5 479.7 262.5 477.2 264.4C474.7 266.3 472.2 268.2 469.8 270.0C467.4 271.8 465.1 273.4 462.8 275.1C460.5 276.8 458.2 278.5 455.9 280.1C453.6 281.8 451.3 283.4 449.0 285.0C446.7 286.6 444.3 288.3 442.0 289.9C439.7 291.5 437.4 293.1 435.2 294.7C433.0 296.3 430.8 298.0 428.7 299.7C426.6 301.4 424.5 303.1 422.5 304.8C420.5 306.5 418.5 308.4 416.6 310.1C414.7 311.8 412.9 313.5 411.1 315.2C409.4 316.9 407.7 318.7 406.1 320.4C404.5 322.1 402.9 323.9 401.4 325.6C399.8 327.3 398.6 328.5 396.8 330.5C395.0 332.5 392.6 335.2 390.4 337.4C388.2 339.6 386.2 341.7 383.8 343.6C381.4 345.5 378.6 347.4 376.1 349.0C373.6 350.6 371.6 351.9 368.7 353.5C365.8 355.1 361.6 357.0 358.6 358.5C355.6 360.0 353.6 361.3 350.8 362.7C348.0 364.1 344.3 365.8 341.6 366.8C338.9 367.8 337.1 368.0 334.7 368.5C332.3 369.0 329.7 369.5 327.4 370.0C325.1 370.5 323.2 370.9 320.8 371.6C318.4 372.3 315.4 373.3 313.1 374.4C310.8 375.5 308.8 376.7 307.1 378.3C305.4 379.9 304.2 381.8 302.8 383.8C301.4 385.8 300.5 388.1 299.0 390.4C297.5 392.7 295.8 395.1 294.0 397.5C292.2 399.9 289.9 402.8 288.2 404.8C286.5 406.8 285.4 408.1 283.8 409.7C282.2 411.3 280.6 412.9 278.9 414.5C277.2 416.1 275.4 417.7 273.5 419.2C271.6 420.7 269.6 422.2 267.5 423.7C265.4 425.2 263.2 426.7 261.0 428.1C258.8 429.5 256.6 430.8 254.3 432.0C252.0 433.2 249.7 434.4 247.3 435.5C245.0 436.6 242.5 437.5 240.2 438.5C237.9 439.5 236.0 440.2 233.3 441.3C230.7 442.4 227.2 443.9 224.3 445.0C221.4 446.1 218.6 447.1 215.8 448.1C213.0 449.1 210.2 450.1 207.6 450.9C205.0 451.7 203.4 452.6 200.2 452.7C197.0 452.8 191.4 452.8 188.3 451.6C185.2 450.5 183.0 448.2 181.6 445.8C180.2 443.4 180.0 439.9 180.1 437.5Z" fill="#1f6eb3"/>
<path d="M297.7 323.4C298.2 320.2 299.5 318.5 300.9 316.0C302.3 313.5 304.5 310.4 306.2 308.4C307.9 306.4 309.2 305.3 311.0 303.8C312.8 302.3 314.9 300.7 316.9 299.3C318.9 297.9 321.0 296.6 323.1 295.3C325.2 294.0 327.4 292.8 329.7 291.7C332.0 290.6 334.4 289.5 336.8 288.5C339.2 287.5 341.5 286.5 343.8 285.8C346.1 285.1 348.4 284.6 350.7 284.1C353.0 283.6 355.4 283.5 357.7 283.0C360.0 282.5 362.1 282.0 364.3 281.2C366.5 280.4 368.9 279.4 371.1 278.4C373.3 277.4 375.5 276.3 377.5 275.1C379.5 273.9 381.3 273.0 383.2 271.4C385.1 269.8 387.3 267.6 389.1 265.6C390.9 263.6 392.4 261.6 393.9 259.6C395.4 257.6 396.8 255.8 398.2 253.8C399.6 251.9 401.0 250.0 402.4 247.9C403.8 245.8 405.3 243.4 406.7 241.1C408.1 238.8 409.5 236.4 411.0 234.1C412.5 231.8 414.1 229.5 415.6 227.3C417.1 225.1 418.6 222.8 420.1 220.7C421.6 218.6 423.0 216.6 424.4 214.7C425.8 212.8 427.2 210.8 428.4 209.1C429.6 207.4 430.4 206.0 431.7 204.3C433.0 202.6 434.6 200.6 436.1 198.8C437.6 197.0 439.1 195.5 440.9 193.6C442.7 191.7 444.6 189.6 446.7 187.6C448.8 185.6 451.4 183.2 453.6 181.4C455.8 179.6 457.6 178.2 459.8 176.5C462.0 174.8 464.3 173.1 466.6 171.4C468.9 169.7 471.4 168.1 473.7 166.5C476.0 164.9 477.8 163.6 480.3 161.9C482.8 160.2 485.9 158.2 488.5 156.5C491.1 154.8 493.8 153.1 496.2 151.7C498.6 150.2 500.4 149.1 503.1 147.8C505.8 146.6 509.4 145.0 512.2 144.2C515.0 143.3 517.4 142.9 519.8 142.7C522.2 142.5 524.4 142.7 526.4 143.2C528.4 143.7 529.8 143.6 531.5 145.5C533.2 147.4 535.6 151.8 536.4 154.5C537.2 157.2 536.6 159.0 536.3 161.5C536.0 164.0 535.4 166.7 534.6 169.5C533.8 172.3 532.9 175.2 531.7 178.3C530.6 181.4 528.9 185.1 527.7 187.8C526.5 190.5 525.7 192.1 524.6 194.3C523.5 196.5 522.2 198.8 521.0 201.0C519.8 203.2 518.5 205.3 517.2 207.5C515.9 209.7 514.6 211.9 513.3 214.0C511.9 216.1 510.5 218.3 509.1 220.2C507.8 222.1 506.6 223.8 505.2 225.5C503.8 227.2 502.2 229.0 500.6 230.7C499.0 232.4 497.1 233.9 495.4 235.5C493.7 237.1 492.2 238.6 490.4 240.3C488.6 242.0 486.6 243.8 484.6 245.6C482.6 247.4 480.6 249.2 478.4 251.1C476.2 252.9 473.8 254.8 471.4 256.7C469.0 258.6 466.3 260.5 463.9 262.4C461.4 264.3 459.0 266.2 456.7 268.1C454.4 270.0 452.1 271.8 449.8 273.6C447.5 275.4 445.1 277.2 442.9 278.9C440.6 280.6 438.5 282.3 436.3 283.9C434.1 285.5 432.0 286.9 429.9 288.3C427.8 289.7 425.6 291.0 423.6 292.4C421.6 293.8 419.6 295.2 417.7 296.7C415.8 298.2 413.9 299.9 412.0 301.6C410.1 303.3 408.3 305.1 406.6 306.8C404.9 308.5 403.5 309.8 401.6 311.8C399.7 313.8 397.2 316.6 395.2 318.9C393.2 321.2 391.3 323.4 389.4 325.6C387.5 327.8 385.8 329.9 383.9 331.9C382.0 333.9 380.2 335.9 378.3 337.8C376.4 339.7 374.7 341.7 372.7 343.4C370.7 345.1 368.2 346.8 366.1 347.8C364.0 348.8 362.1 349.0 360.0 349.4C357.9 349.8 355.5 349.9 353.2 350.1C350.9 350.3 348.5 350.4 346.2 350.5C343.9 350.6 341.8 350.8 339.5 350.8C337.2 350.8 334.8 350.7 332.6 350.6C330.4 350.5 328.8 350.4 326.2 350.0C323.6 349.6 320.1 348.9 317.3 348.1C314.5 347.3 312.0 346.3 309.5 345.0C307.0 343.7 304.5 342.1 302.5 340.5C300.5 338.9 298.5 338.0 297.7 335.1C296.9 332.2 297.2 326.6 297.7 323.4Z" fill="#1561a9"/>
<path d="M185.3 431.9C185.9 429.0 187.1 428.1 188.3 426.0C189.5 423.9 191.0 421.4 192.4 419.2C193.8 417.0 195.2 414.8 196.6 412.7C197.9 410.6 199.2 408.8 200.5 406.9C201.8 405.0 203.0 403.1 204.3 401.3C205.7 399.5 207.1 397.8 208.6 396.1C210.1 394.4 211.8 392.8 213.4 391.2C215.1 389.6 216.8 388.1 218.5 386.7C220.2 385.3 221.6 384.2 223.9 382.8C226.2 381.4 229.3 379.5 232.1 378.3C234.9 377.1 237.8 376.1 240.7 375.4C243.6 374.7 246.5 374.3 249.3 374.2C252.1 374.1 254.9 374.1 257.5 374.5C260.1 374.9 262.6 375.9 264.8 376.9C267.0 377.9 269.2 379.2 270.9 380.7C272.6 382.2 273.9 384.0 275.0 385.8C276.1 387.6 276.8 389.6 277.2 391.7C277.6 393.8 277.6 396.2 277.3 398.5C277.0 400.8 276.5 403.2 275.5 405.4C274.5 407.5 272.9 409.4 271.1 411.4C269.3 413.4 266.7 415.6 264.8 417.3C262.9 419.0 261.5 420.0 259.6 421.3C257.8 422.6 255.7 423.9 253.7 425.1C251.7 426.3 250.2 427.3 247.7 428.7C245.2 430.1 241.8 431.9 238.9 433.5C236.0 435.1 233.1 436.5 230.2 438.3C227.3 440.1 224.5 442.4 221.6 444.2C218.7 446.0 215.9 447.9 213.0 449.2C210.1 450.5 207.0 451.3 204.2 451.8C201.4 452.3 198.6 452.5 196.1 452.0C193.6 451.5 191.2 450.0 189.3 448.6C187.4 447.2 185.3 446.2 184.6 443.4C183.9 440.6 184.7 434.8 185.3 431.9Z" fill="#1561a9"/>
<path d="M419.1 261.2C417.9 259.6 419.8 257.8 420.7 255.8C421.6 253.9 423.1 251.5 424.5 249.5C425.9 247.5 427.6 245.9 429.2 243.9C430.8 241.9 432.8 240.1 434.3 237.6C435.8 235.1 437.0 232.1 438.4 229.1C439.8 226.1 441.2 222.3 442.4 219.6C443.6 216.9 444.5 215.3 445.6 213.1C446.7 210.9 447.7 208.4 448.9 206.2C450.1 204.0 451.3 201.8 452.6 199.7C453.9 197.6 455.4 195.7 456.8 193.8C458.2 191.9 459.8 190.0 461.3 188.2C462.9 186.4 464.4 184.6 466.1 182.8C467.8 181.0 469.6 179.2 471.4 177.5C473.2 175.8 475.0 174.1 476.9 172.4C478.8 170.8 480.7 169.1 482.6 167.6C484.5 166.1 486.2 164.7 488.1 163.3C490.0 161.9 491.9 160.5 493.7 159.3C495.5 158.1 496.9 157.2 499.1 155.9C501.3 154.6 504.4 152.7 506.9 151.5C509.4 150.3 511.1 149.0 514.0 148.5C516.9 148.0 521.4 147.3 524.0 148.6C526.6 149.9 528.7 152.9 529.7 156.1C530.7 159.3 530.1 164.4 529.8 167.8C529.4 171.2 528.5 173.6 527.6 176.4C526.7 179.2 525.6 182.4 524.4 184.8C523.2 187.2 521.8 188.7 520.4 190.6C519.0 192.5 517.4 193.9 515.8 196.2C514.2 198.5 512.5 201.5 510.8 204.2C509.1 206.9 507.2 209.9 505.3 212.3C503.4 214.7 501.6 216.7 499.7 218.7C497.8 220.7 495.8 222.3 493.9 224.1C492.0 225.9 490.1 227.7 488.2 229.3C486.2 231.0 484.3 232.5 482.2 234.0C480.1 235.5 477.7 237.0 475.4 238.3C473.1 239.7 470.8 240.9 468.5 242.1C466.2 243.2 463.9 244.1 461.6 245.2C459.3 246.2 457.0 247.1 454.8 248.4C452.6 249.7 450.4 251.5 448.2 253.1C446.0 254.7 443.8 256.5 441.5 258.1C439.2 259.7 436.7 261.4 434.5 262.6C432.3 263.8 430.7 265.6 428.1 265.4C425.5 265.2 420.3 262.8 419.1 261.2Z" fill="#08458a"/>
<path d="M319.2 321.8C318.6 319.0 320.5 315.4 321.6 313.3C322.7 311.2 324.2 310.4 325.9 309.0C327.6 307.6 329.6 306.2 331.8 304.9C334.0 303.6 336.6 302.3 339.1 301.2C341.7 300.1 344.3 299.0 347.1 298.1C349.9 297.2 353.0 296.4 355.8 295.7C358.6 295.0 360.7 294.5 364.0 293.9C367.3 293.3 372.2 292.2 375.8 292.3C379.4 292.4 383.9 293.1 385.9 294.6C387.9 296.1 387.6 299.2 387.6 301.3C387.6 303.4 386.5 305.0 385.7 307.0C384.9 309.0 383.8 311.2 382.6 313.1C381.4 315.0 380.0 316.7 378.6 318.4C377.2 320.1 375.6 321.7 374.0 323.2C372.4 324.7 370.7 326.1 369.0 327.4C367.3 328.6 366.4 329.4 363.8 330.7C361.2 332.0 356.6 334.3 353.7 335.1C350.8 335.9 348.8 335.7 346.2 335.7C343.6 335.7 340.9 335.6 338.4 335.2C335.9 334.8 333.4 334.0 331.1 333.2C328.9 332.4 326.9 332.0 324.9 330.1C322.9 328.2 319.8 324.6 319.2 321.8Z" fill="#08458a"/>
<path d="M189.4 434.0C189.6 431.2 190.6 429.6 191.6 427.3C192.6 425.0 193.8 422.6 195.3 420.2C196.9 417.8 198.9 415.4 200.9 413.1C202.9 410.8 205.2 408.6 207.3 406.6C209.5 404.6 211.6 402.6 213.8 400.9C216.0 399.2 218.3 397.7 220.7 396.3C223.1 394.9 225.6 393.6 228.1 392.6C230.6 391.6 233.2 390.7 235.6 390.2C238.0 389.7 240.3 389.4 242.5 389.4C244.7 389.4 246.0 389.0 248.7 390.0C251.4 391.0 256.8 393.0 258.7 395.6C260.6 398.2 260.3 402.9 260.3 405.5C260.3 408.1 259.4 409.4 258.5 411.3C257.6 413.2 256.6 415.3 255.1 417.2C253.7 419.1 251.8 420.9 249.8 422.7C247.8 424.5 245.6 426.3 243.3 428.1C241.0 429.9 238.4 431.7 235.9 433.4C233.4 435.1 230.7 436.8 228.1 438.5C225.5 440.2 223.0 442.0 220.5 443.5C218.0 445.0 215.5 446.5 212.9 447.6C210.3 448.7 207.6 449.5 205.2 450.0C202.8 450.5 201.1 451.4 198.6 450.4C196.1 449.4 191.7 446.6 190.2 443.9C188.7 441.2 189.2 436.8 189.4 434.0Z" fill="#08458a"/>
</g>
<path d="M99.5 542.5v4.86" stroke="#000" stroke-width="1.11"/>
<text x="99.56" y="562" font-size="13.889" text-anchor="middle">−0.2</text>
<path d="M78.5 523.5h-4.86" stroke="#000" stroke-width="1.11"/>
<text x="68.48" y="529.38" font-size="13.889" text-anchor="end">−0.2</text>
<path d="M175.5 542.5v4.86" stroke="#000" stroke-width="1.11"/>
<text x="176.11" y="562" font-size="13.889" text-anchor="middle">0.0</text>
<path d="M78.5 457.5h-4.86" stroke="#000" stroke-width="1.11"/>
<text x="68.48" y="462.49" font-size="13.889" text-anchor="end">0.0</text>
<path d="M252.5 542.5v4.86" stroke="#000" stroke-width="1.11"/>
<text x="252.67" y="562" font-size="13.889" text-anchor="middle">0.2</text>
<path d="M78.5 390.5h-4.86" stroke="#000" stroke-width="1.11"/>
<text x="68.48" y="395.61" font-size="13.889" text-anchor="end">0.2</text>
<path d="M329.5 542.5v4.86" stroke="#000" stroke-width="1.11"/>
<text x="329.22" y="562" font-size="13.889" text-anchor="middle">0.4</text>
<path d="M78.5 323.5h-4.86" stroke="#000" stroke-width="1.11"/>
<text x="68.48" y="328.72" font-size="13.889" text-anchor="end">0.4</text>
<path d="M405.5 542.5v4.86" stroke="#000" stroke-width="1.11"/>
<text x="405.78" y="562" font-size="13.889" text-anchor="middle">0.6</text>
<path d="M78.5 256.5h-4.86" stroke="#000" stroke-width="1.11"/>
<text x="68.48" y="261.84" font-size="13.889" text-anchor="end">0.6</text>
<path d="M482.5 542.5v4.86" stroke="#000" stroke-width="1.11"/>
<text x="482.33" y="562" font-size="13.889" text-anchor="middle">0.8</text>
<path d="M78.5 189.5h-4.86" stroke="#000" stroke-width="1.11"/>
<text x="68.48" y="194.95" font-size="13.889" text-anchor="end">0.8</text>
<path d="M559.5 542.5v4.86" stroke="#000" stroke-width="1.11"/>
<text x="558.89" y="562" font-size="13.889" text-anchor="middle">1.0</text>
<path d="M78.5 123.5h-4.86" stroke="#000" stroke-width="1.11"/>
<text x="68.48" y="128.07" font-size="13.889" text-anchor="end">1.0</text>
<path d="M635.5 542.5v4.86" stroke="#000" stroke-width="1.11"/>
<text x="635.44" y="562" font-size="13.889" text-anchor="middle">1.2</text>
<path d="M78.5 56.5h-4.86" stroke="#000" stroke-width="1.11"/>
<text x="68.48" y="61.18" font-size="13.889" text-anchor="end">1.2</text>
<rect x="78.5" y="37.5" width="578.0" height="505.0" fill="none" stroke="#000" stroke-width="1.11"/>
<text transform="translate(367.20 29) scale(1 1.08)" font-size="16.667" text-anchor="middle">Original Uniform Data</text>
<text x="367.20" y="581.9" font-size="13.889" text-anchor="middle">DWJ</text>
<text transform="translate(26.72 292) rotate(-90)" font-size="13.889" text-anchor="middle">10Y_TBY</text>
<clipPath id="cb"><rect x="734.5" y="37.5" width="579.0" height="505.0"/></clipPath>
<g clip-path="url(#cb)" shape-rendering="crispEdges">
<path d="M788.6 445.2C788.7 442.8 788.8 440.3 789.1 437.8C789.4 435.3 789.8 432.8 790.3 430.1C790.8 427.4 791.3 424.3 791.9 421.5C792.5 418.7 793.2 415.7 793.8 413.3C794.4 410.9 794.8 409.3 795.4 407.1C796.0 404.9 796.6 402.4 797.1 400.0C797.6 397.6 798.0 395.5 798.5 392.9C799.0 390.3 799.4 387.2 799.9 384.5C800.4 381.8 800.9 379.1 801.3 376.6C801.7 374.1 802.1 371.9 802.5 369.7C802.9 367.4 803.1 365.3 803.5 363.1C803.9 360.9 804.2 358.8 804.6 356.6C805.0 354.4 805.3 352.1 805.7 349.9C806.1 347.7 806.4 345.5 806.8 343.3C807.2 341.1 807.5 338.9 807.9 336.7C808.3 334.5 808.6 332.2 809.0 329.9C809.4 327.6 809.9 325.3 810.3 323.1C810.7 320.9 811.0 319.2 811.5 316.8C812.0 314.4 812.6 311.3 813.2 308.5C813.8 305.7 814.5 302.6 815.0 300.1C815.5 297.6 815.9 295.9 816.4 293.7C816.9 291.5 817.5 289.2 818.0 286.9C818.5 284.6 819.0 282.4 819.5 280.1C820.0 277.9 820.3 275.6 820.8 273.4C821.2 271.2 821.8 269.0 822.2 266.8C822.6 264.6 823.0 262.4 823.4 260.1C823.8 257.9 824.1 255.5 824.5 253.3C824.9 251.1 825.3 248.9 825.6 246.7C825.9 244.5 826.2 242.2 826.5 240.0C826.8 237.8 827.0 235.5 827.2 233.3C827.4 231.1 827.5 228.9 827.6 226.7C827.7 224.5 827.9 222.2 828.0 220.0C828.1 217.8 828.2 215.5 828.2 213.3C828.2 211.1 828.2 208.9 828.2 206.7C828.2 204.5 828.2 202.2 828.3 200.0C828.4 197.8 828.6 195.6 828.7 193.3C828.8 191.1 828.9 188.7 829.1 186.5C829.3 184.3 829.5 182.7 830.0 180.0C830.5 177.3 831.0 173.7 831.8 170.6C832.6 167.5 833.5 164.6 834.7 161.7C835.9 158.8 837.4 155.7 839.0 152.9C840.6 150.1 842.5 147.4 844.5 145.0C846.5 142.6 848.8 140.5 851.3 138.6C853.8 136.7 857.0 134.7 859.4 133.3C861.8 131.9 863.4 131.3 865.5 130.4C867.6 129.5 869.9 128.8 872.2 128.0C874.5 127.2 876.9 126.5 879.3 125.9C881.7 125.3 884.2 124.7 886.7 124.2C889.2 123.7 891.8 123.3 894.5 122.9C897.2 122.5 899.9 122.0 902.7 121.6C905.5 121.2 908.4 120.8 911.3 120.4C914.2 120.0 917.3 119.7 920.3 119.3C923.3 118.9 926.3 118.6 929.3 118.2C932.3 117.8 935.2 117.5 938.2 117.1C941.2 116.7 944.1 116.4 947.1 116.0C950.1 115.6 953.0 115.2 956.0 114.9C959.0 114.6 961.9 114.2 964.8 113.9C967.7 113.6 970.6 113.3 973.6 113.0C976.6 112.7 980.0 112.4 982.7 112.2C985.4 112.0 987.4 111.8 989.7 111.7C992.0 111.6 994.3 111.5 996.7 111.4C999.1 111.3 1001.6 111.2 1004.1 111.0C1006.6 110.8 1009.5 110.6 1012.0 110.4C1014.5 110.2 1016.6 110.0 1019.0 109.8C1021.4 109.6 1024.0 109.3 1026.5 109.1C1029.0 108.8 1031.7 108.5 1034.3 108.3C1036.9 108.0 1039.5 107.8 1042.0 107.6C1044.5 107.4 1046.6 107.2 1049.3 106.9C1052.0 106.6 1055.1 106.3 1057.9 106.0C1060.7 105.7 1063.5 105.5 1066.3 105.2C1069.1 104.9 1071.7 104.7 1074.5 104.4C1077.3 104.1 1080.1 103.9 1082.9 103.6C1085.7 103.3 1088.5 103.0 1091.4 102.8C1094.3 102.6 1097.3 102.4 1100.1 102.2C1102.9 102.0 1105.7 101.7 1108.4 101.4C1111.1 101.1 1113.4 100.8 1116.3 100.4C1119.2 100.0 1122.7 99.4 1125.7 98.8C1128.7 98.2 1131.6 97.7 1134.4 97.0C1137.2 96.3 1140.0 95.6 1142.7 94.9C1145.4 94.2 1148.0 93.4 1150.6 92.6C1153.2 91.8 1155.7 90.8 1158.2 90.0C1160.7 89.2 1163.2 88.4 1165.7 87.7C1168.2 87.0 1170.8 86.4 1173.4 85.8C1176.0 85.2 1178.5 84.6 1181.1 84.1C1183.7 83.6 1186.3 83.1 1188.9 82.8C1191.5 82.5 1194.2 82.2 1196.8 82.0C1199.4 81.8 1202.2 81.6 1204.8 81.6C1207.4 81.5 1210.0 81.5 1212.5 81.7C1215.0 81.9 1217.4 82.2 1219.7 82.6C1222.0 83.0 1224.3 83.3 1226.5 83.9C1228.7 84.5 1230.3 84.9 1232.7 86.0C1235.1 87.1 1238.5 88.8 1241.0 90.5C1243.5 92.2 1245.9 94.2 1247.9 96.4C1249.9 98.6 1251.5 101.0 1252.9 103.5C1254.3 106.0 1255.5 108.8 1256.3 111.6C1257.0 114.4 1257.3 117.4 1257.4 120.5C1257.5 123.6 1257.1 127.4 1256.9 130.1C1256.7 132.8 1256.4 134.3 1256.0 136.5C1255.6 138.7 1255.2 140.8 1254.7 143.0C1254.2 145.2 1253.6 147.6 1253.1 150.0C1252.5 152.4 1252.0 154.8 1251.4 157.4C1250.8 160.0 1250.2 162.7 1249.6 165.3C1249.0 167.9 1248.4 170.5 1247.8 173.1C1247.2 175.7 1246.6 178.3 1246.1 180.9C1245.5 183.5 1245.0 186.1 1244.5 188.7C1244.0 191.3 1243.4 193.9 1242.9 196.5C1242.4 199.1 1241.9 201.8 1241.4 204.4C1240.9 207.0 1240.5 209.7 1240.1 212.3C1239.7 214.9 1239.2 217.4 1238.9 219.8C1238.6 222.2 1238.3 224.5 1238.0 226.7C1237.7 228.9 1237.5 231.0 1237.2 233.2C1237.0 235.4 1236.7 237.6 1236.5 240.0C1236.3 242.4 1236.1 245.0 1235.9 247.6C1235.7 250.2 1235.6 252.9 1235.4 255.6C1235.2 258.3 1234.9 261.0 1234.6 263.6C1234.3 266.2 1234.0 268.8 1233.7 271.4C1233.4 274.0 1232.9 276.7 1232.5 279.3C1232.1 281.9 1231.7 284.6 1231.2 287.2C1230.8 289.8 1230.3 292.4 1229.8 295.0C1229.3 297.6 1228.8 300.1 1228.2 302.7C1227.6 305.3 1227.1 308.0 1226.4 310.6C1225.7 313.2 1224.9 315.9 1224.1 318.5C1223.3 321.1 1222.4 323.8 1221.6 326.4C1220.8 329.0 1220.1 331.5 1219.3 333.9C1218.5 336.3 1217.7 338.6 1217.0 340.8C1216.3 343.1 1215.6 345.2 1215.0 347.4C1214.4 349.5 1213.8 351.1 1213.4 353.7C1213.0 356.3 1212.6 360.1 1212.4 363.2C1212.2 366.3 1212.2 369.4 1212.3 372.4C1212.4 375.4 1212.8 378.3 1213.2 381.1C1213.6 383.9 1214.0 386.7 1214.4 389.4C1214.8 392.1 1215.2 394.6 1215.4 397.3C1215.6 400.0 1215.8 402.6 1215.5 405.5C1215.2 408.4 1214.4 411.8 1213.4 414.9C1212.4 417.9 1211.0 421.2 1209.6 423.8C1208.1 426.4 1206.6 428.4 1204.7 430.4C1202.8 432.3 1200.6 434.1 1198.2 435.5C1195.8 436.9 1193.3 438.1 1190.5 439.1C1187.7 440.1 1184.1 440.9 1181.4 441.4C1178.8 441.9 1177.0 441.9 1174.6 442.1C1172.2 442.3 1169.6 442.3 1167.1 442.4C1164.6 442.5 1162.1 442.6 1159.6 442.6C1157.1 442.7 1154.5 442.7 1151.9 442.7C1149.3 442.7 1146.6 442.6 1144.0 442.7C1141.4 442.8 1138.8 442.8 1136.2 443.1C1133.6 443.4 1131.0 443.9 1128.4 444.3C1125.8 444.8 1123.3 445.3 1120.7 445.8C1118.1 446.3 1115.5 446.9 1112.9 447.5C1110.3 448.1 1107.8 448.7 1105.2 449.4C1102.6 450.1 1100.1 450.9 1097.5 451.6C1094.9 452.3 1092.3 453.0 1089.5 453.6C1086.7 454.2 1083.8 454.8 1080.9 455.3C1078.0 455.9 1074.9 456.4 1071.9 456.9C1068.9 457.4 1065.9 457.8 1062.9 458.2C1059.9 458.6 1056.8 458.9 1053.8 459.1C1050.8 459.4 1047.6 459.5 1044.7 459.7C1041.8 459.9 1038.9 460.2 1036.3 460.4C1033.7 460.6 1031.2 460.9 1028.9 461.1C1026.6 461.3 1024.3 461.5 1022.2 461.8C1020.1 462.1 1018.3 462.3 1016.3 462.7C1014.3 463.1 1012.3 463.5 1010.1 464.0C1007.9 464.5 1005.5 465.1 1003.0 465.6C1000.5 466.1 998.0 466.6 995.1 467.2C992.2 467.8 988.8 468.3 985.7 468.9C982.6 469.5 979.4 470.1 976.3 470.8C973.2 471.5 970.1 472.1 967.1 472.8C964.1 473.5 960.9 474.3 958.0 474.9C955.1 475.5 952.8 476.0 949.6 476.5C946.4 477.0 942.1 477.5 938.9 477.8C935.7 478.1 933.4 478.2 930.3 478.5C927.2 478.8 923.3 479.3 920.3 479.8C917.3 480.3 915.2 480.8 912.4 481.3C909.6 481.8 906.5 482.4 903.6 482.9C900.8 483.4 898.1 483.9 895.3 484.4C892.5 484.9 889.8 485.4 887.0 485.8C884.2 486.2 881.4 486.7 878.6 487.1C875.8 487.5 873.0 487.9 870.2 488.3C867.4 488.7 864.5 489.3 861.7 489.7C858.9 490.1 856.1 490.4 853.3 490.8C850.5 491.2 847.6 491.5 844.8 491.8C842.0 492.1 839.3 492.4 836.6 492.5C833.9 492.6 831.2 492.7 828.7 492.6C826.2 492.5 823.7 492.4 821.4 492.0C819.1 491.6 817.1 491.0 815.1 490.3C813.1 489.6 812.0 489.4 809.5 487.7C807.0 486.0 802.9 483.1 800.2 480.2C797.5 477.3 795.0 472.8 793.5 470.2C792.0 467.6 791.9 466.6 791.2 464.6C790.6 462.7 790.0 460.6 789.6 458.5C789.2 456.4 788.9 454.3 788.7 452.1C788.5 449.9 788.5 447.6 788.6 445.2Z" fill="#fee3d6"/>
<path d="M808.2 442.0C808.0 438.9 808.4 437.7 808.6 435.4C808.8 433.1 809.1 430.8 809.4 428.4C809.7 426.0 810.1 423.3 810.5 420.8C810.9 418.3 811.4 415.6 811.9 413.2C812.4 410.8 813.1 408.4 813.8 406.1C814.5 403.8 815.2 401.6 815.9 399.6C816.6 397.6 817.3 396.0 818.0 394.0C818.7 392.0 819.4 390.2 820.0 387.7C820.6 385.2 821.1 382.2 821.7 379.2C822.3 376.1 823.0 372.2 823.5 369.4C824.0 366.6 824.4 364.7 824.9 362.3C825.4 359.9 826.0 357.3 826.5 354.9C827.0 352.5 827.5 350.6 828.1 347.9C828.7 345.2 829.5 341.5 830.2 338.5C830.9 335.5 831.5 332.7 832.3 329.8C833.1 326.9 834.0 323.9 834.8 321.2C835.6 318.4 836.5 315.6 837.2 313.3C837.9 311.0 838.2 309.3 838.8 307.1C839.4 304.9 840.0 302.5 840.7 300.1C841.4 297.8 842.0 295.6 842.8 293.0C843.5 290.4 844.4 287.5 845.2 284.8C846.0 282.1 846.8 279.3 847.5 276.7C848.2 274.1 849.0 271.6 849.7 269.1C850.4 266.6 851.1 264.1 851.7 261.7C852.4 259.3 852.8 257.4 853.6 255.0C854.4 252.6 855.4 249.7 856.3 247.2C857.2 244.7 858.1 242.6 858.9 239.9C859.7 237.2 860.5 234.1 861.3 231.0C862.1 227.9 862.9 224.7 863.7 221.6C864.6 218.5 865.6 215.4 866.4 212.3C867.2 209.2 868.1 206.1 868.6 203.2C869.1 200.2 869.3 197.4 869.6 194.6C869.9 191.8 870.1 189.1 870.4 186.6C870.7 184.1 871.0 181.7 871.6 179.5C872.2 177.3 872.8 175.1 873.8 173.2C874.8 171.2 876.1 169.5 877.5 167.8C878.9 166.1 880.6 164.6 882.4 163.2C884.2 161.8 886.2 160.7 888.4 159.6C890.6 158.5 893.6 157.4 895.8 156.6C898.0 155.8 899.7 155.4 901.8 154.8C903.9 154.2 906.2 153.8 908.6 153.2C911.0 152.6 913.5 152.1 915.9 151.5C918.3 150.9 920.8 150.2 923.3 149.6C925.8 148.9 928.5 148.2 931.1 147.6C933.8 146.9 936.4 146.3 939.2 145.7C942.0 145.0 944.9 144.4 947.9 143.7C950.9 143.0 954.0 142.3 957.0 141.7C960.0 141.1 963.0 140.5 966.0 139.9C969.0 139.3 972.0 138.8 975.0 138.3C978.0 137.8 981.0 137.3 984.0 136.8C987.0 136.3 990.0 135.8 992.7 135.3C995.4 134.8 997.8 134.4 1000.3 134.0C1002.8 133.6 1005.0 133.2 1007.6 132.8C1010.2 132.4 1013.3 131.8 1016.0 131.4C1018.7 131.0 1020.9 130.6 1023.6 130.2C1026.3 129.8 1029.2 129.2 1032.0 128.7C1034.8 128.2 1037.8 127.7 1040.7 127.2C1043.6 126.8 1046.5 126.3 1049.3 126.0C1052.1 125.7 1054.8 125.4 1057.6 125.1C1060.4 124.8 1063.1 124.6 1065.9 124.4C1068.7 124.2 1071.5 124.0 1074.3 123.7C1077.1 123.4 1079.8 123.1 1082.6 122.7C1085.4 122.3 1088.2 121.8 1091.0 121.3C1093.8 120.8 1096.8 120.3 1099.6 119.8C1102.4 119.3 1105.2 118.6 1107.9 118.1C1110.6 117.6 1112.9 117.2 1115.8 116.7C1118.7 116.2 1122.2 115.4 1125.3 114.8C1128.4 114.2 1131.3 113.5 1134.2 112.9C1137.1 112.3 1139.9 111.9 1142.7 111.4C1145.5 110.9 1148.2 110.5 1150.8 110.1C1153.4 109.7 1156.0 109.4 1158.6 109.0C1161.2 108.6 1163.8 108.2 1166.4 107.7C1169.1 107.2 1171.8 106.6 1174.5 106.0C1177.2 105.4 1180.0 104.8 1182.6 104.2C1185.2 103.7 1187.8 103.1 1190.3 102.7C1192.8 102.3 1195.2 102.0 1197.5 101.7C1199.8 101.4 1202.2 101.1 1204.4 101.0C1206.6 100.9 1208.4 100.8 1210.8 101.0C1213.2 101.2 1216.5 101.6 1219.0 102.3C1221.5 103.0 1223.8 103.8 1225.9 104.9C1228.0 106.0 1229.9 107.5 1231.5 109.1C1233.1 110.7 1234.5 112.6 1235.6 114.7C1236.6 116.8 1237.3 119.0 1237.8 121.5C1238.3 124.0 1238.4 127.2 1238.4 129.6C1238.4 132.0 1238.2 133.6 1238.0 135.7C1237.8 137.8 1237.3 140.1 1236.9 142.4C1236.5 144.7 1236.0 147.0 1235.5 149.4C1235.0 151.8 1234.3 154.4 1233.6 156.9C1232.9 159.4 1232.2 162.1 1231.5 164.7C1230.8 167.3 1230.0 170.0 1229.2 172.6C1228.4 175.2 1227.6 177.8 1226.7 180.4C1225.8 183.0 1224.9 185.6 1224.1 188.2C1223.2 190.8 1222.4 193.3 1221.6 195.9C1220.8 198.5 1220.1 201.2 1219.3 203.8C1218.5 206.4 1217.7 209.1 1217.0 211.7C1216.3 214.3 1215.6 216.9 1215.0 219.3C1214.4 221.7 1213.8 224.0 1213.3 226.2C1212.8 228.4 1212.4 230.4 1211.9 232.7C1211.5 234.9 1211.0 237.2 1210.6 239.7C1210.1 242.1 1209.6 244.8 1209.2 247.4C1208.8 250.0 1208.5 252.7 1208.0 255.4C1207.5 258.1 1207.0 260.8 1206.5 263.5C1206.0 266.2 1205.5 268.8 1204.9 271.4C1204.3 274.0 1203.8 276.7 1203.1 279.3C1202.4 281.9 1201.7 284.6 1200.8 287.2C1199.9 289.8 1198.9 292.5 1197.8 295.1C1196.7 297.7 1195.5 300.4 1194.3 303.0C1193.1 305.6 1191.9 308.1 1190.7 310.5C1189.5 312.9 1188.3 315.3 1187.1 317.7C1185.9 320.1 1184.8 322.5 1183.6 324.6C1182.4 326.7 1181.4 328.5 1180.2 330.5C1179.0 332.5 1177.6 334.8 1176.3 336.7C1175.0 338.6 1173.9 340.2 1172.4 342.1C1171.0 344.1 1169.3 346.2 1167.6 348.4C1165.9 350.6 1164.0 352.9 1162.1 355.2C1160.2 357.5 1158.2 359.9 1156.2 362.4C1154.2 364.8 1152.1 367.4 1150.1 369.9C1148.1 372.4 1146.0 374.9 1144.0 377.4C1142.0 379.9 1140.1 382.3 1138.1 384.7C1136.1 387.1 1134.2 389.3 1132.2 391.5C1130.2 393.7 1128.3 395.8 1126.4 397.7C1124.5 399.6 1122.6 401.4 1120.6 403.0C1118.6 404.6 1116.7 406.1 1114.6 407.6C1112.5 409.1 1110.3 410.6 1108.1 412.0C1105.9 413.4 1103.6 414.7 1101.2 416.0C1098.8 417.3 1096.3 418.6 1093.8 419.7C1091.3 420.8 1088.7 421.9 1086.3 422.8C1083.9 423.7 1081.8 424.5 1079.3 425.3C1076.8 426.1 1073.9 426.9 1071.4 427.5C1069.0 428.1 1067.0 428.6 1064.6 429.2C1062.2 429.8 1059.5 430.3 1057.0 430.9C1054.5 431.5 1052.0 432.1 1049.6 432.8C1047.2 433.5 1045.0 434.3 1042.7 435.0C1040.5 435.7 1038.2 436.5 1036.1 437.2C1034.0 437.9 1032.3 438.6 1030.3 439.3C1028.3 440.0 1026.2 440.6 1024.0 441.3C1021.8 442.0 1019.5 442.8 1017.3 443.4C1015.0 444.0 1013.0 444.5 1010.5 445.1C1008.0 445.7 1005.2 446.3 1002.5 446.9C999.8 447.5 997.0 448.1 994.1 448.7C991.2 449.3 988.4 450.0 985.4 450.7C982.4 451.4 979.2 452.2 976.2 452.9C973.2 453.6 970.2 454.3 967.1 455.0C964.0 455.7 960.6 456.2 957.4 456.9C954.2 457.5 950.6 458.3 947.7 458.9C944.8 459.5 942.9 459.8 940.0 460.3C937.1 460.8 933.5 461.3 930.6 461.8C927.7 462.3 925.4 462.8 922.6 463.3C919.8 463.9 916.6 464.5 913.7 465.1C910.8 465.7 908.2 466.2 905.4 466.8C902.6 467.4 899.9 468.1 897.1 468.7C894.3 469.3 891.5 469.8 888.7 470.4C885.9 471.0 883.1 471.6 880.3 472.1C877.5 472.7 874.6 473.2 871.8 473.7C869.0 474.2 866.3 474.8 863.6 475.2C860.9 475.6 858.3 476.0 855.8 476.3C853.3 476.6 850.9 476.8 848.5 476.9C846.1 477.0 843.8 477.0 841.6 476.9C839.4 476.8 837.3 476.6 835.2 476.3C833.1 476.0 831.0 475.5 829.1 474.8C827.2 474.1 826.0 474.1 823.6 472.4C821.2 470.7 816.9 467.7 814.6 464.6C812.3 461.5 810.8 457.5 809.7 453.7C808.6 449.9 808.4 445.1 808.2 442.0Z" fill="#fcab8f"/>
<path d="M818.6 438.8C818.3 435.0 818.8 430.1 819.0 427.0C819.2 423.9 819.3 422.5 819.6 420.2C819.9 417.9 820.2 415.5 820.8 413.2C821.4 410.9 822.4 408.4 823.2 406.2C824.1 403.9 824.6 402.5 825.9 399.7C827.2 396.9 829.7 392.3 830.8 389.6C831.9 386.9 832.0 385.6 832.6 383.4C833.2 381.2 833.7 378.9 834.4 376.2C835.1 373.5 835.9 370.3 836.7 367.2C837.5 364.1 838.4 360.8 839.3 357.8C840.1 354.8 840.9 352.0 841.8 349.2C842.6 346.4 843.5 343.7 844.4 341.2C845.2 338.7 846.0 336.6 846.9 334.4C847.8 332.2 848.6 330.2 849.6 327.9C850.6 325.6 851.7 322.9 852.7 320.4C853.8 317.9 854.9 315.4 855.9 313.0C856.9 310.6 857.6 308.4 858.5 306.2C859.4 304.0 860.2 301.9 861.2 299.8C862.2 297.8 863.2 296.1 864.3 293.9C865.4 291.7 866.7 289.0 867.6 286.6C868.5 284.2 869.0 282.1 869.8 279.6C870.5 277.1 871.3 274.2 872.1 271.5C872.9 268.8 873.7 266.0 874.5 263.3C875.3 260.6 876.2 257.9 877.0 255.2C877.8 252.5 878.6 249.6 879.5 247.1C880.4 244.6 881.0 242.5 882.1 240.0C883.2 237.5 884.7 234.4 886.0 231.9C887.3 229.4 888.5 227.3 890.0 225.0C891.5 222.7 893.2 220.1 894.9 217.9C896.6 215.7 898.3 213.4 900.0 211.6C901.7 209.8 903.5 208.4 905.1 207.0C906.8 205.6 907.8 205.0 909.9 203.2C912.0 201.3 915.6 197.8 917.6 195.9C919.6 194.0 920.4 193.1 922.0 191.5C923.6 189.9 925.4 188.2 927.2 186.5C929.0 184.8 930.8 183.1 932.6 181.5C934.4 179.9 936.1 178.2 937.9 176.7C939.7 175.1 941.4 173.6 943.3 172.2C945.2 170.8 947.1 169.3 949.1 168.0C951.1 166.7 953.2 165.5 955.4 164.3C957.6 163.2 959.8 162.1 962.1 161.1C964.4 160.1 966.8 159.1 969.2 158.1C971.7 157.1 974.2 156.2 976.8 155.3C979.4 154.4 982.1 153.7 984.7 152.9C987.3 152.1 990.1 151.3 992.6 150.5C995.1 149.7 997.5 149.0 1000.0 148.3C1002.5 147.6 1004.8 147.0 1007.4 146.3C1010.0 145.6 1013.2 144.7 1015.9 144.0C1018.6 143.3 1020.8 142.6 1023.5 141.9C1026.2 141.2 1029.1 140.3 1032.0 139.6C1034.9 138.9 1037.8 138.2 1040.7 137.6C1043.6 137.0 1046.5 136.4 1049.3 136.0C1052.1 135.6 1054.8 135.4 1057.6 135.2C1060.4 135.0 1063.2 135.1 1066.0 135.0C1068.8 134.9 1071.6 134.9 1074.4 134.8C1077.2 134.7 1079.9 134.5 1082.7 134.2C1085.5 133.9 1088.5 133.6 1091.3 133.2C1094.1 132.8 1097.0 132.3 1099.8 131.9C1102.6 131.5 1105.4 131.0 1108.1 130.5C1110.8 130.0 1113.1 129.6 1116.0 129.0C1118.9 128.4 1122.5 127.5 1125.5 126.8C1128.5 126.1 1131.4 125.3 1134.3 124.6C1137.2 123.9 1140.0 123.1 1142.7 122.4C1145.4 121.7 1148.1 121.1 1150.7 120.4C1153.3 119.7 1155.9 119.1 1158.5 118.4C1161.1 117.7 1163.5 117.0 1166.1 116.2C1168.7 115.4 1171.5 114.6 1174.2 113.8C1176.9 113.0 1179.7 112.0 1182.2 111.3C1184.8 110.5 1186.8 109.8 1189.5 109.3C1192.2 108.8 1195.7 108.2 1198.5 108.0C1201.3 107.8 1203.7 107.7 1206.2 108.0C1208.7 108.3 1211.1 108.9 1213.3 109.7C1215.5 110.5 1217.6 111.5 1219.3 112.8C1221.0 114.0 1222.4 115.5 1223.6 117.2C1224.8 118.9 1225.8 120.8 1226.4 122.7C1227.1 124.6 1227.3 126.6 1227.5 128.8C1227.7 131.0 1227.5 133.9 1227.4 136.1C1227.3 138.3 1227.0 140.0 1226.7 142.1C1226.4 144.2 1226.0 146.5 1225.5 148.8C1225.0 151.1 1224.5 153.5 1223.9 155.9C1223.3 158.3 1222.5 160.7 1221.7 163.2C1220.9 165.7 1219.9 168.4 1219.0 171.0C1218.1 173.6 1217.1 176.1 1216.2 178.7C1215.3 181.2 1214.4 183.8 1213.4 186.3C1212.5 188.8 1211.5 191.3 1210.5 193.8C1209.5 196.3 1208.5 198.8 1207.5 201.4C1206.5 204.0 1205.5 206.8 1204.5 209.5C1203.5 212.2 1202.6 215.1 1201.7 217.6C1200.8 220.1 1200.1 222.3 1199.3 224.7C1198.5 227.1 1197.5 229.7 1196.7 232.0C1195.9 234.3 1195.1 235.9 1194.3 238.3C1193.5 240.7 1192.6 243.6 1191.7 246.4C1190.8 249.2 1189.7 252.8 1189.0 255.4C1188.3 258.0 1188.1 259.8 1187.6 262.0C1187.1 264.2 1186.8 266.5 1186.1 268.8C1185.4 271.1 1184.7 273.4 1183.7 275.6C1182.8 277.9 1181.6 280.1 1180.4 282.3C1179.2 284.5 1177.8 286.8 1176.4 288.9C1175.0 291.0 1173.5 293.2 1171.8 295.2C1170.1 297.2 1168.4 299.0 1166.5 300.8C1164.6 302.6 1162.6 304.4 1160.6 306.2C1158.6 308.0 1156.7 309.8 1154.7 311.5C1152.7 313.2 1150.6 315.0 1148.5 316.7C1146.4 318.4 1144.2 320.2 1142.2 321.9C1140.2 323.6 1138.6 325.0 1136.6 326.8C1134.5 328.6 1132.0 330.8 1129.9 332.8C1127.8 334.8 1125.9 336.6 1124.1 338.9C1122.3 341.1 1120.6 343.8 1119.1 346.3C1117.5 348.8 1116.1 351.4 1114.8 354.0C1113.5 356.6 1112.6 359.1 1111.5 361.6C1110.4 364.1 1109.4 366.5 1108.3 368.9C1107.2 371.2 1106.2 373.5 1105.0 375.7C1103.8 377.9 1102.6 379.9 1101.2 382.0C1099.8 384.1 1098.1 386.2 1096.4 388.2C1094.7 390.1 1093.0 392.0 1091.2 393.7C1089.4 395.4 1087.6 396.9 1085.7 398.3C1083.8 399.7 1081.9 400.9 1079.9 402.2C1077.9 403.5 1075.9 404.8 1073.7 406.0C1071.5 407.2 1069.3 408.3 1067.0 409.3C1064.7 410.3 1062.2 411.0 1059.8 411.8C1057.4 412.6 1054.9 413.3 1052.6 414.0C1050.3 414.7 1048.3 415.3 1046.2 416.0C1044.1 416.7 1042.0 417.3 1039.8 418.0C1037.6 418.7 1035.2 419.6 1032.9 420.4C1030.6 421.2 1029.0 421.9 1026.2 422.9C1023.5 423.9 1019.0 425.7 1016.4 426.6C1013.8 427.5 1013.1 427.6 1010.9 428.2C1008.7 428.8 1005.4 429.6 1003.2 430.3C1001.0 431.0 999.6 431.5 997.5 432.1C995.4 432.7 993.1 433.4 990.7 434.1C988.4 434.8 985.8 435.6 983.4 436.2C981.0 436.8 979.0 437.2 976.3 437.9C973.6 438.5 970.1 439.4 967.0 440.1C963.9 440.9 960.7 441.7 957.8 442.4C954.9 443.1 952.5 443.8 949.4 444.5C946.2 445.2 942.1 446.0 938.9 446.6C935.7 447.2 932.7 447.8 930.3 448.4C927.9 449.0 926.2 449.8 924.3 450.5C922.4 451.2 920.9 452.1 918.8 452.9C916.7 453.7 914.2 454.6 911.7 455.5C909.2 456.4 906.6 457.3 904.1 458.1C901.6 458.9 899.1 459.7 896.6 460.5C894.1 461.3 891.6 462.0 889.1 462.7C886.6 463.4 884.0 463.9 881.4 464.5C878.8 465.1 876.2 465.7 873.8 466.2C871.4 466.7 869.1 467.2 866.9 467.6C864.6 468.0 862.5 468.4 860.3 468.6C858.1 468.8 856.0 468.9 853.9 469.0C851.8 469.1 850.6 469.4 847.6 468.9C844.6 468.4 839.4 467.7 835.9 466.1C832.4 464.5 829.4 461.9 826.9 459.2C824.4 456.5 822.4 453.3 821.0 449.9C819.6 446.5 818.9 442.6 818.6 438.8Z" fill="#fb7d5d"/>
<path d="M827.2 436.2C826.7 432.7 827.0 428.2 827.1 425.3C827.2 422.4 827.3 420.9 827.6 418.6C827.9 416.4 828.2 413.9 828.8 411.8C829.4 409.7 830.3 407.9 831.2 405.9C832.1 403.9 833.1 402.0 834.1 399.9C835.1 397.8 836.4 395.6 837.5 393.4C838.6 391.1 839.8 388.8 840.7 386.4C841.6 384.0 842.4 381.4 843.1 378.9C843.9 376.4 844.5 373.7 845.2 371.3C846.0 368.9 846.8 366.6 847.6 364.4C848.4 362.2 849.2 360.0 850.0 357.9C850.8 355.8 851.5 353.9 852.3 352.0C853.1 350.1 854.0 348.2 854.9 346.3C855.8 344.4 856.7 342.4 857.7 340.5C858.7 338.6 859.7 336.6 860.8 334.6C861.9 332.6 863.1 330.6 864.2 328.6C865.3 326.6 866.4 324.7 867.5 322.8C868.6 320.9 869.7 318.9 870.8 317.0C871.9 315.1 873.1 313.2 874.3 311.2C875.5 309.2 876.8 307.1 878.1 305.2C879.4 303.3 880.0 301.8 881.9 299.7C883.8 297.6 886.5 294.8 889.5 292.7C892.5 290.6 897.1 288.8 899.6 287.3C902.1 285.9 903.0 285.1 904.7 284.0C906.4 282.9 907.3 282.3 909.8 280.7C912.3 279.1 916.4 275.9 919.8 274.1C923.1 272.3 926.5 271.0 929.9 269.9C933.2 268.8 936.8 268.2 939.9 267.4C943.0 266.6 946.2 265.8 948.2 264.9C950.2 264.0 951.3 262.8 951.6 261.9C951.9 261.0 951.6 260.1 949.9 259.6C948.2 259.1 944.9 259.3 941.6 259.1C938.3 258.9 933.4 259.3 929.9 258.6C926.4 257.9 922.9 256.9 920.7 254.9C918.5 252.9 917.1 249.4 916.6 246.6C916.1 243.8 916.7 241.2 917.8 238.1C918.9 235.0 921.5 230.6 923.1 228.1C924.7 225.6 925.7 224.8 927.1 223.1C928.5 221.4 930.0 219.8 931.5 218.1C933.0 216.4 934.4 214.7 935.8 213.0C937.2 211.3 938.0 210.4 939.8 208.2C941.6 206.0 944.5 202.3 946.5 199.9C948.5 197.5 949.8 195.9 951.6 193.7C953.5 191.5 955.8 188.6 957.6 186.7C959.4 184.8 960.7 183.7 962.3 182.2C963.9 180.7 965.7 179.0 967.4 177.6C969.1 176.2 970.5 175.0 972.7 173.6C974.9 172.2 977.9 170.5 980.7 169.1C983.5 167.7 986.9 166.4 989.4 165.4C991.9 164.4 993.6 163.8 995.9 163.0C998.1 162.2 1000.7 161.5 1002.9 160.8C1005.1 160.1 1006.9 159.4 1009.3 158.7C1011.7 158.0 1014.6 157.4 1017.4 156.7C1020.2 156.0 1023.4 155.3 1026.0 154.5C1028.6 153.7 1030.4 152.9 1032.8 152.0C1035.2 151.1 1037.7 150.0 1040.4 149.1C1043.1 148.2 1046.5 147.3 1049.2 146.7C1052.0 146.1 1054.2 145.9 1056.9 145.6C1059.6 145.3 1062.5 145.1 1065.4 144.8C1068.3 144.5 1071.2 144.3 1074.1 144.0C1077.0 143.7 1079.9 143.5 1082.8 143.2C1085.7 142.8 1088.4 142.3 1091.2 141.9C1094.0 141.5 1097.0 141.0 1099.8 140.5C1102.6 140.0 1105.4 139.5 1108.1 139.0C1110.8 138.5 1113.0 138.0 1115.9 137.3C1118.8 136.6 1122.3 135.7 1125.3 134.8C1128.3 133.9 1131.2 133.0 1134.1 132.1C1137.0 131.2 1139.8 130.3 1142.6 129.5C1145.3 128.7 1148.0 127.9 1150.6 127.1C1153.2 126.3 1155.8 125.4 1158.4 124.6C1161.0 123.8 1163.4 123.0 1166.1 122.1C1168.8 121.2 1171.6 120.2 1174.3 119.2C1177.0 118.2 1179.8 117.2 1182.4 116.4C1185.0 115.6 1187.1 114.8 1189.7 114.2C1192.3 113.6 1195.6 113.1 1198.1 112.9C1200.6 112.8 1202.7 112.8 1204.8 113.3C1206.9 113.8 1209.1 114.6 1210.9 115.6C1212.7 116.6 1214.2 117.0 1215.7 119.3C1217.2 121.6 1219.4 126.6 1220.2 129.3C1221.0 132.0 1220.6 133.1 1220.5 135.3C1220.4 137.5 1219.9 140.4 1219.6 142.6C1219.2 144.8 1218.9 146.5 1218.4 148.6C1217.9 150.7 1217.2 153.0 1216.5 155.3C1215.8 157.6 1215.1 160.0 1214.3 162.4C1213.5 164.8 1212.7 167.3 1211.8 169.8C1210.9 172.3 1210.0 174.9 1209.0 177.5C1208.0 180.1 1207.0 182.6 1205.9 185.2C1204.9 187.8 1203.8 190.2 1202.7 192.8C1201.6 195.4 1200.4 198.0 1199.3 200.5C1198.2 203.0 1197.2 205.4 1196.1 207.8C1195.0 210.2 1193.9 212.6 1192.9 214.9C1191.9 217.2 1190.9 219.6 1190.0 221.7C1189.1 223.8 1188.8 224.8 1187.4 227.4C1186.0 230.0 1183.2 234.4 1181.8 237.3C1180.4 240.2 1180.1 242.1 1179.2 244.9C1178.3 247.7 1177.1 251.3 1176.2 253.9C1175.3 256.5 1174.9 258.1 1174.1 260.3C1173.3 262.5 1172.5 265.1 1171.6 267.3C1170.7 269.5 1169.8 271.6 1168.7 273.7C1167.6 275.8 1166.2 277.7 1164.9 279.6C1163.6 281.5 1162.1 283.3 1160.6 285.1C1159.1 286.9 1157.5 288.7 1155.9 290.3C1154.3 291.9 1152.6 293.4 1150.8 294.9C1149.0 296.4 1147.1 297.9 1145.3 299.3C1143.5 300.7 1141.6 302.1 1139.7 303.5C1137.8 304.9 1135.8 306.5 1133.8 308.0C1131.8 309.5 1129.6 311.0 1127.6 312.5C1125.6 314.0 1123.6 315.4 1121.6 316.8C1119.6 318.2 1117.7 319.7 1115.7 321.1C1113.7 322.5 1111.6 323.9 1109.8 325.3C1108.0 326.7 1106.6 327.9 1104.8 329.5C1103.0 331.1 1100.8 333.2 1099.1 335.2C1097.4 337.2 1096.0 339.0 1094.7 341.3C1093.4 343.6 1092.2 346.2 1091.0 348.8C1089.8 351.4 1088.8 354.0 1087.8 356.6C1086.8 359.2 1085.8 361.8 1084.8 364.3C1083.8 366.8 1082.8 369.3 1081.6 371.7C1080.4 374.1 1079.1 376.6 1077.7 378.8C1076.3 381.1 1074.8 383.3 1073.1 385.2C1071.4 387.1 1069.3 388.6 1067.3 390.0C1065.3 391.4 1063.0 392.7 1060.9 393.8C1058.8 394.9 1056.6 396.0 1054.5 396.9C1052.4 397.8 1051.0 398.4 1048.4 399.2C1045.8 400.0 1041.7 400.8 1038.8 401.9C1035.9 403.0 1034.0 404.4 1031.2 405.8C1028.4 407.2 1024.7 409.1 1022.2 410.2C1019.7 411.3 1018.3 411.9 1016.2 412.7C1014.1 413.5 1012.1 414.1 1009.8 414.9C1007.5 415.7 1004.8 416.6 1002.5 417.3C1000.2 418.0 998.4 418.6 996.3 419.2C994.1 419.8 991.9 420.5 989.6 421.2C987.3 421.9 984.8 422.6 982.5 423.3C980.2 424.0 978.3 424.4 975.6 425.1C972.9 425.9 969.5 426.9 966.4 427.8C963.3 428.7 960.2 429.9 957.3 430.7C954.4 431.5 952.0 432.3 948.9 432.8C945.8 433.3 941.6 433.4 938.4 433.6C935.2 433.8 932.3 433.5 929.9 434.1C927.5 434.7 925.7 435.9 923.8 437.0C921.9 438.1 920.4 439.3 918.5 440.4C916.6 441.5 914.4 442.5 912.2 443.6C910.1 444.7 907.8 445.8 905.6 446.8C903.4 447.8 901.4 448.6 899.2 449.5C897.0 450.4 894.8 451.1 892.6 451.9C890.4 452.7 888.2 453.5 886.0 454.3C883.8 455.1 881.6 455.8 879.4 456.5C877.2 457.2 874.9 457.9 872.7 458.5C870.5 459.1 869.3 459.5 866.3 460.1C863.3 460.7 858.4 461.9 854.7 462.0C851.0 462.1 847.3 461.8 844.1 460.6C840.9 459.4 837.8 457.3 835.4 454.9C833.0 452.5 831.3 449.4 829.9 446.3C828.5 443.2 827.7 439.7 827.2 436.2Z" fill="#f75b40"/>
<path d="M832.6 433.8C832.1 430.6 832.5 426.4 832.5 423.6C832.5 420.8 832.6 419.3 832.9 417.2C833.2 415.1 833.5 412.9 834.1 410.8C834.7 408.7 835.6 406.7 836.5 404.8C837.4 402.9 837.8 401.6 839.2 399.6C840.6 397.6 843.4 394.9 844.8 392.7C846.2 390.5 846.6 388.5 847.6 386.2C848.6 383.9 849.6 381.2 850.6 379.0C851.6 376.8 852.5 374.8 853.5 372.8C854.5 370.8 855.5 368.9 856.5 366.9C857.5 364.9 858.6 362.9 859.6 360.9C860.6 358.9 861.7 356.9 862.8 354.9C863.9 352.9 865.1 351.0 866.3 349.0C867.5 347.0 868.8 344.9 870.1 342.9C871.4 340.9 872.7 338.8 874.1 336.8C875.5 334.8 876.9 332.9 878.4 331.0C879.9 329.1 881.4 327.4 882.9 325.7C884.4 324.0 886.0 322.3 887.6 320.8C889.2 319.3 890.6 317.9 892.3 316.5C894.0 315.1 895.8 313.8 897.8 312.5C899.8 311.2 901.9 309.8 904.2 308.5C906.5 307.2 908.9 305.9 911.6 304.7C914.3 303.5 917.3 302.3 920.2 301.3C923.1 300.3 926.3 299.4 929.0 298.7C931.7 298.0 934.0 297.7 936.4 297.3C938.8 296.9 940.9 296.6 943.2 296.2C945.5 295.8 948.0 295.2 950.4 294.6C952.8 294.0 955.1 293.4 957.5 292.7C959.9 292.0 962.5 291.4 964.8 290.7C967.1 289.9 969.4 289.1 971.5 288.2C973.6 287.2 975.5 286.2 977.2 285.0C978.9 283.8 980.4 282.4 981.9 281.0C983.4 279.6 984.8 277.9 986.0 276.3C987.2 274.7 988.1 273.6 989.3 271.1C990.5 268.6 992.3 264.4 993.3 261.1C994.3 257.8 994.8 254.4 995.1 251.1C995.4 247.8 995.7 244.2 995.3 241.1C994.9 238.0 994.1 235.0 992.5 232.7C990.9 230.4 988.5 228.5 985.6 227.2C982.8 225.8 978.5 225.6 975.4 224.6C972.3 223.6 969.0 222.6 967.0 220.9C965.0 219.2 963.9 216.4 963.2 214.2C962.6 212.0 962.7 209.9 963.1 207.7C963.5 205.5 964.6 203.5 965.9 201.1C967.2 198.7 969.4 195.3 971.1 193.0C972.8 190.7 974.2 189.2 976.2 187.3C978.2 185.4 980.4 183.3 982.8 181.6C985.2 179.9 987.8 178.2 990.6 176.9C993.4 175.6 996.9 174.2 999.4 173.5C1001.9 172.8 1003.6 172.7 1005.9 172.4C1008.1 172.1 1010.7 172.1 1012.9 171.9C1015.1 171.7 1016.8 171.6 1019.3 171.1C1021.8 170.6 1025.3 169.7 1028.1 168.9C1030.9 168.1 1033.8 167.2 1036.0 166.1C1038.2 165.0 1039.3 163.5 1041.5 162.2C1043.7 160.9 1046.8 159.1 1049.2 158.2C1051.6 157.2 1053.5 157.1 1056.1 156.5C1058.7 155.9 1061.7 155.4 1064.7 154.8C1067.7 154.2 1070.9 153.8 1073.9 153.2C1076.9 152.6 1079.8 152.1 1082.7 151.5C1085.6 150.9 1088.4 150.3 1091.2 149.7C1094.0 149.1 1097.0 148.6 1099.8 148.0C1102.6 147.4 1105.3 146.7 1108.0 146.1C1110.7 145.5 1113.0 144.9 1115.9 144.2C1118.8 143.4 1122.4 142.5 1125.4 141.6C1128.5 140.7 1131.3 139.7 1134.2 138.8C1137.1 137.9 1139.8 137.0 1142.6 136.0C1145.3 135.0 1148.1 134.0 1150.7 133.0C1153.3 132.0 1155.9 131.0 1158.4 130.1C1160.9 129.2 1163.4 128.2 1165.9 127.3C1168.4 126.4 1170.9 125.4 1173.4 124.5C1175.9 123.6 1178.5 122.7 1180.8 121.9C1183.1 121.2 1185.0 120.5 1187.5 120.0C1190.0 119.5 1193.2 119.0 1195.7 118.9C1198.2 118.8 1199.8 118.3 1202.4 119.5C1205.1 120.7 1209.5 123.2 1211.6 126.1C1213.7 129.0 1214.3 133.6 1214.8 136.7C1215.2 139.8 1214.7 141.7 1214.3 144.4C1213.9 147.2 1213.2 150.7 1212.6 153.2C1212.0 155.7 1211.5 157.3 1210.8 159.4C1210.1 161.5 1209.4 163.8 1208.6 166.0C1207.8 168.2 1206.9 170.3 1206.0 172.6C1205.1 174.8 1204.0 177.2 1203.0 179.5C1202.0 181.8 1200.9 184.1 1199.8 186.4C1198.7 188.7 1197.6 191.1 1196.4 193.4C1195.2 195.7 1194.1 198.0 1192.9 200.3C1191.7 202.6 1190.5 204.9 1189.3 207.2C1188.1 209.5 1187.0 211.9 1185.8 214.2C1184.6 216.5 1183.4 218.8 1182.2 221.1C1181.0 223.4 1179.7 225.9 1178.6 228.2C1177.5 230.5 1176.5 232.9 1175.5 235.1C1174.5 237.3 1173.7 239.4 1172.9 241.6C1172.1 243.8 1171.4 245.9 1170.6 248.0C1169.8 250.1 1169.3 251.7 1168.3 254.3C1167.2 256.9 1165.8 260.5 1164.3 263.4C1162.8 266.3 1161.2 269.3 1159.6 271.6C1158.0 273.9 1156.4 275.3 1154.5 277.2C1152.6 279.1 1150.1 281.0 1148.0 282.9C1145.9 284.8 1144.2 286.6 1142.0 288.6C1139.8 290.6 1137.2 293.0 1134.9 295.1C1132.6 297.2 1130.3 299.2 1128.1 301.0C1125.9 302.8 1123.9 304.4 1121.8 306.0C1119.7 307.6 1117.6 309.1 1115.6 310.5C1113.6 311.9 1112.0 313.1 1109.8 314.4C1107.6 315.7 1104.6 317.0 1102.2 318.2C1099.8 319.4 1097.5 320.1 1095.6 321.3C1093.6 322.5 1092.1 323.9 1090.5 325.4C1088.9 326.9 1087.6 328.4 1086.2 330.1C1084.8 331.9 1083.5 333.9 1082.2 335.9C1080.9 337.9 1079.7 340.0 1078.6 342.1C1077.5 344.2 1076.4 346.3 1075.4 348.5C1074.4 350.7 1073.5 352.9 1072.4 355.2C1071.3 357.4 1070.1 359.8 1068.8 362.0C1067.5 364.2 1066.1 366.3 1064.7 368.3C1063.3 370.3 1061.9 372.1 1060.4 373.8C1058.9 375.5 1058.1 376.6 1055.7 378.3C1053.3 380.0 1048.9 382.6 1045.9 384.2C1042.9 385.8 1040.2 386.7 1037.9 387.8C1035.6 388.9 1034.3 389.8 1032.2 391.0C1030.1 392.2 1027.4 393.7 1025.1 395.0C1022.7 396.3 1020.3 397.6 1018.1 398.8C1015.9 400.0 1013.9 401.0 1011.8 402.0C1009.7 403.0 1007.8 404.0 1005.6 405.0C1003.4 406.0 1000.7 407.1 998.5 407.9C996.3 408.7 994.4 409.3 992.2 410.0C990.0 410.7 987.7 411.4 985.4 412.1C983.1 412.8 980.6 413.5 978.3 414.1C975.9 414.8 973.6 415.4 971.3 416.0C968.9 416.6 966.6 417.3 964.2 418.0C961.8 418.7 959.4 419.4 957.1 420.1C954.8 420.8 952.4 421.5 950.3 422.2C948.2 422.9 947.0 423.5 944.6 424.2C942.2 424.9 938.4 425.6 935.8 426.1C933.2 426.7 931.9 426.6 929.2 427.5C926.5 428.4 922.2 430.4 919.6 431.8C917.0 433.2 915.7 434.4 913.6 435.7C911.5 437.0 909.2 438.5 907.0 439.7C904.8 440.9 902.7 442.0 900.6 443.1C898.5 444.2 896.4 445.2 894.2 446.1C892.0 447.0 889.8 447.9 887.6 448.7C885.5 449.5 883.3 450.4 881.3 451.1C879.3 451.8 877.3 452.4 875.4 453.0C873.5 453.6 872.5 453.9 869.8 454.5C867.1 455.1 862.6 456.4 859.2 456.6C855.8 456.8 852.3 456.8 849.3 455.8C846.3 454.9 843.4 453.0 841.1 450.9C838.8 448.8 837.0 446.0 835.6 443.1C834.2 440.2 833.1 437.1 832.6 433.8Z" fill="#ed392b"/>
<path d="M836.4 430.9C835.8 427.8 835.4 424.3 835.6 420.6C835.8 416.9 836.1 412.4 837.4 408.7C838.7 405.0 841.6 400.8 843.5 398.5C845.4 396.2 846.8 397.3 848.6 395.0C850.4 392.7 852.3 388.2 854.2 384.9C856.1 381.5 857.9 378.2 860.0 374.9C862.1 371.6 865.0 367.4 866.7 364.9C868.4 362.4 868.9 361.5 870.1 359.9C871.3 358.2 872.6 356.6 873.9 355.0C875.2 353.4 876.6 351.8 878.1 350.2C879.6 348.6 881.3 347.0 882.9 345.4C884.5 343.8 886.1 342.0 887.9 340.4C889.7 338.8 891.5 337.2 893.5 335.7C895.5 334.1 897.7 332.6 900.0 331.1C902.3 329.6 904.6 328.2 907.2 326.8C909.9 325.4 913.1 323.9 915.9 322.7C918.7 321.5 921.4 320.5 923.8 319.6C926.2 318.7 928.4 317.9 930.5 317.2C932.6 316.5 934.5 316.2 936.7 315.7C938.9 315.2 941.5 314.6 943.6 314.0C945.7 313.4 947.5 312.7 949.5 312.0C951.5 311.3 953.5 310.7 955.8 309.9C958.1 309.1 960.9 308.1 963.5 307.2C966.1 306.3 968.9 305.2 971.7 304.4C974.5 303.5 977.4 302.8 980.1 302.1C982.8 301.4 985.1 301.0 987.7 300.0C990.3 299.0 992.9 297.4 995.9 296.3C998.9 295.2 1002.5 294.4 1005.8 293.6C1009.1 292.8 1012.5 292.4 1015.8 291.6C1019.1 290.9 1023.1 290.1 1025.8 289.1C1028.5 288.1 1032.0 286.8 1031.7 285.7C1031.5 284.6 1026.9 283.8 1024.3 282.4C1021.7 281.0 1018.4 279.9 1016.2 277.5C1014.1 275.1 1012.5 271.8 1011.4 268.3C1010.3 264.9 1010.0 260.7 1009.6 256.8C1009.2 253.0 1009.1 249.1 1009.2 245.2C1009.3 241.3 1009.9 237.4 1010.2 233.6C1010.5 229.8 1010.9 225.9 1011.1 222.1C1011.3 218.3 1011.4 214.2 1011.2 210.6C1011.0 207.0 1009.9 203.5 1009.7 200.7C1009.5 197.9 1009.7 196.1 1010.0 193.9C1010.3 191.7 1009.7 189.5 1011.6 187.6C1013.5 185.7 1018.8 183.7 1021.6 182.4C1024.4 181.1 1025.8 180.9 1028.3 179.9C1030.8 178.9 1034.0 177.8 1036.6 176.6C1039.1 175.4 1041.1 174.3 1043.6 173.0C1046.1 171.7 1048.8 170.2 1051.5 168.9C1054.2 167.6 1057.0 166.2 1059.8 165.2C1062.6 164.1 1065.3 163.4 1068.2 162.6C1071.1 161.8 1074.0 161.1 1077.0 160.4C1080.0 159.7 1083.5 158.9 1086.3 158.2C1089.1 157.5 1091.1 156.9 1093.6 156.3C1096.1 155.7 1098.7 155.0 1101.2 154.4C1103.8 153.8 1106.4 153.2 1108.9 152.5C1111.4 151.8 1113.8 151.1 1116.2 150.4C1118.6 149.7 1120.8 149.1 1123.1 148.3C1125.4 147.6 1127.7 146.7 1129.9 145.9C1132.1 145.1 1134.2 144.4 1136.4 143.6C1138.6 142.8 1140.4 142.1 1142.8 141.2C1145.2 140.3 1148.2 139.1 1150.9 138.1C1153.6 137.1 1156.2 136.0 1158.7 135.0C1161.2 134.0 1163.8 133.1 1166.2 132.2C1168.7 131.3 1171.1 130.4 1173.4 129.5C1175.8 128.6 1178.1 127.7 1180.3 127.0C1182.5 126.3 1184.2 125.7 1186.4 125.1C1188.7 124.5 1191.6 123.8 1193.8 123.6C1196.0 123.4 1197.3 122.7 1199.7 123.7C1202.1 124.7 1206.3 126.8 1208.1 129.6C1209.9 132.4 1210.1 137.4 1210.4 140.3C1210.7 143.2 1210.1 144.7 1209.7 147.2C1209.3 149.7 1208.7 152.3 1207.9 155.1C1207.1 157.9 1206.1 160.8 1205.1 163.8C1204.0 166.8 1202.6 170.5 1201.6 173.1C1200.6 175.7 1199.9 177.3 1198.9 179.4C1197.9 181.5 1196.9 183.6 1195.8 185.8C1194.7 188.0 1193.7 190.1 1192.5 192.4C1191.3 194.7 1190.0 197.1 1188.7 199.4C1187.4 201.8 1186.1 204.2 1184.8 206.5C1183.5 208.8 1182.1 211.2 1180.9 213.4C1179.7 215.6 1178.6 217.6 1177.4 219.7C1176.2 221.8 1175.0 223.7 1173.9 225.8C1172.8 227.9 1171.7 229.9 1170.7 232.2C1169.7 234.5 1168.7 236.9 1167.8 239.4C1166.9 241.9 1166.2 244.5 1165.2 246.9C1164.2 249.3 1163.2 251.7 1162.0 253.9C1160.8 256.1 1159.4 258.1 1158.0 260.1C1156.6 262.1 1155.1 263.9 1153.6 265.7C1152.1 267.5 1150.9 268.9 1149.1 271.0C1147.3 273.1 1144.9 276.0 1142.7 278.4C1140.5 280.8 1137.8 283.4 1135.7 285.2C1133.6 287.0 1132.0 288.0 1130.1 289.4C1128.1 290.8 1126.1 292.0 1124.0 293.3C1121.9 294.6 1119.7 295.9 1117.6 297.2C1115.5 298.5 1113.3 300.0 1111.2 301.4C1109.1 302.8 1106.9 304.2 1104.8 305.6C1102.7 307.0 1101.0 308.0 1098.6 309.5C1096.2 311.0 1092.9 313.1 1090.3 314.8C1087.7 316.5 1085.2 318.1 1082.8 319.7C1080.4 321.3 1077.9 322.7 1075.8 324.3C1073.7 325.9 1071.6 327.4 1070.2 329.2C1068.8 330.9 1068.3 332.9 1067.5 334.8C1066.7 336.7 1066.4 338.7 1065.6 340.6C1064.8 342.5 1063.8 344.5 1062.9 346.4C1062.0 348.3 1061.0 350.4 1060.0 352.2C1059.0 354.0 1057.8 355.7 1056.6 357.4C1055.4 359.1 1055.0 360.1 1053.1 362.3C1051.2 364.5 1047.5 368.6 1045.1 370.7C1042.7 372.8 1040.8 373.2 1038.7 374.6C1036.6 376.0 1034.8 377.5 1032.5 379.1C1030.2 380.7 1027.6 382.6 1025.0 384.2C1022.4 385.8 1019.6 387.4 1016.8 388.9C1013.9 390.4 1010.4 392.2 1007.9 393.3C1005.4 394.4 1003.7 394.9 1001.5 395.6C999.3 396.3 997.0 397.0 994.7 397.7C992.4 398.4 990.1 399.0 987.6 399.7C985.1 400.4 982.6 401.1 980.0 401.8C977.4 402.5 974.6 403.4 972.0 404.1C969.4 404.8 966.9 405.4 964.4 406.1C961.9 406.8 959.4 407.4 957.0 408.1C954.6 408.8 952.2 409.4 950.0 410.1C947.8 410.8 946.0 411.4 943.7 412.1C941.4 412.8 938.4 413.4 936.0 414.1C933.6 414.8 931.4 415.4 929.2 416.5C927.0 417.6 924.7 419.4 922.6 420.9C920.5 422.4 918.5 424.2 916.5 425.7C914.5 427.2 912.7 428.7 910.8 430.1C908.9 431.5 907.0 432.8 905.1 434.0C903.2 435.2 901.3 436.2 899.4 437.2C897.5 438.2 895.6 439.1 893.7 440.0C891.8 440.9 889.8 441.8 887.9 442.6C886.0 443.4 885.0 444.0 882.2 445.0C879.4 446.0 874.8 447.5 871.3 448.5C867.8 449.5 864.6 450.6 861.4 450.9C858.2 451.2 855.1 451.1 852.3 450.4C849.5 449.6 846.9 448.2 844.7 446.4C842.5 444.6 840.5 442.0 839.1 439.4C837.7 436.8 837.0 434.0 836.4 430.9Z" fill="#de2b25"/>
<path d="M920.1 354.5C923.2 354.5 927.6 357.7 929.6 359.4C931.6 361.1 931.4 362.7 932.0 364.6C932.6 366.5 933.0 368.6 933.0 370.6C933.0 372.6 932.6 374.8 932.1 376.7C931.6 378.6 931.5 380.3 929.7 382.0C927.9 383.7 924.1 387.1 921.3 387.1C918.5 387.2 914.8 384.0 912.8 382.3C910.8 380.6 910.4 379.0 909.5 377.1C908.6 375.2 907.8 372.9 907.6 370.9C907.4 368.8 907.8 366.7 908.4 364.8C909.0 362.9 909.0 361.2 911.0 359.5C913.0 357.8 917.0 354.5 920.1 354.5Z" fill="#ed392b"/>
<path d="M1027.8 201.5C1026.8 203.4 1026.0 205.1 1025.2 207.0C1024.4 208.9 1023.7 210.7 1023.0 212.7C1022.3 214.7 1021.6 216.9 1021.0 219.1C1020.4 221.3 1020.0 223.7 1019.6 225.9C1019.2 228.2 1019.0 230.4 1018.9 232.6C1018.8 234.8 1018.5 236.1 1018.8 239.1C1019.0 242.1 1019.3 247.4 1020.4 250.7C1021.5 254.0 1023.0 256.9 1025.3 259.1C1027.6 261.4 1031.2 262.9 1034.4 264.2C1037.6 265.5 1041.4 266.0 1044.4 266.7C1047.5 267.4 1050.1 267.4 1052.7 268.5C1055.3 269.6 1058.4 271.4 1060.1 273.5C1061.8 275.6 1062.6 278.3 1062.8 280.9C1063.0 283.5 1062.4 286.3 1061.4 289.0C1060.4 291.7 1059.2 294.8 1057.0 297.2C1054.8 299.6 1050.8 302.1 1048.4 303.5C1046.0 304.9 1044.7 305.1 1042.7 305.7C1040.7 306.3 1038.7 306.9 1036.6 307.4C1034.5 307.9 1032.1 308.2 1029.9 308.5C1027.7 308.8 1025.4 309.0 1023.2 309.1C1021.0 309.2 1019.0 309.3 1016.8 309.4C1014.6 309.5 1012.4 309.6 1009.9 309.9C1007.4 310.2 1004.6 310.8 1001.8 311.4C999.0 312.0 996.0 312.7 993.2 313.3C990.4 313.9 987.6 314.5 984.8 315.2C982.0 315.9 979.2 316.6 976.5 317.5C973.8 318.4 971.2 319.5 968.7 320.6C966.2 321.7 963.8 323.0 961.5 324.2C959.2 325.4 957.0 326.6 955.0 327.9C953.0 329.1 951.4 329.7 949.8 331.7C948.2 333.7 945.9 336.7 945.2 340.0C944.5 343.3 945.4 348.7 945.6 351.7C945.9 354.7 946.3 355.9 946.7 358.1C947.1 360.3 947.5 362.6 947.9 365.0C948.3 367.4 948.7 370.1 949.0 372.6C949.3 375.1 949.5 376.8 949.9 379.9C950.3 383.0 950.2 388.5 951.4 391.5C952.6 394.5 954.4 396.8 957.0 398.0C959.6 399.2 964.2 398.9 966.9 398.8C969.6 398.7 971.1 398.0 973.4 397.4C975.7 396.8 978.0 396.1 980.5 395.3C983.0 394.5 985.5 393.6 988.1 392.6C990.7 391.7 993.4 390.6 996.0 389.6C998.6 388.6 1001.3 387.6 1003.9 386.6C1006.5 385.6 1009.2 384.4 1011.6 383.4C1014.0 382.3 1016.1 381.5 1018.4 380.3C1020.7 379.1 1023.2 377.6 1025.2 376.2C1027.2 374.8 1028.6 373.5 1030.4 371.9C1032.2 370.3 1034.2 368.4 1035.8 366.8C1037.4 365.2 1038.4 364.1 1039.9 362.6C1041.4 361.2 1042.8 360.3 1044.7 358.1C1046.6 355.9 1049.0 352.7 1051.1 349.6C1053.2 346.5 1055.8 342.8 1057.5 339.4C1059.2 336.0 1060.2 332.1 1061.6 329.3C1063.0 326.5 1063.5 324.9 1065.8 322.7C1068.1 320.5 1072.9 318.0 1075.3 316.4C1077.7 314.8 1078.4 314.2 1080.1 312.9C1081.8 311.6 1083.6 310.1 1085.5 308.7C1087.4 307.3 1089.5 305.9 1091.5 304.7C1093.5 303.5 1095.6 302.4 1097.8 301.3C1100.0 300.2 1102.2 299.1 1104.4 298.0C1106.6 296.9 1108.7 295.7 1110.8 294.5C1112.9 293.3 1115.0 292.1 1117.1 290.8C1119.2 289.5 1121.3 288.2 1123.3 286.8C1125.3 285.4 1127.1 284.0 1129.1 282.5C1131.0 281.0 1133.1 279.3 1135.0 277.6C1136.9 275.9 1138.9 274.0 1140.5 272.4C1142.1 270.8 1143.2 269.9 1144.8 268.0C1146.4 266.1 1147.9 263.4 1150.0 260.8C1152.1 258.2 1155.5 255.0 1157.3 252.1C1159.1 249.2 1159.8 246.3 1161.1 243.4C1162.4 240.5 1163.1 237.6 1164.9 234.6C1166.7 231.6 1169.6 228.5 1171.7 225.4C1173.8 222.3 1175.8 218.5 1177.3 215.9C1178.8 213.3 1179.2 212.2 1180.4 210.0C1181.6 207.8 1183.0 205.3 1184.2 203.0C1185.4 200.7 1186.7 198.2 1187.8 195.9C1188.9 193.6 1190.0 191.6 1191.1 189.4C1192.2 187.2 1193.3 184.9 1194.3 182.7C1195.3 180.5 1196.1 178.9 1197.2 176.3C1198.3 173.7 1199.8 170.0 1201.0 167.0C1202.2 164.0 1203.2 161.0 1204.1 158.2C1204.9 155.4 1205.6 152.7 1206.1 150.2C1206.6 147.7 1207.3 146.0 1207.1 143.2C1206.9 140.4 1206.6 135.7 1205.0 133.2C1203.4 130.7 1200.8 128.8 1197.6 128.1C1194.4 127.4 1189.1 128.5 1185.7 129.2C1182.3 129.9 1180.2 130.9 1177.0 132.1C1173.8 133.2 1169.8 134.9 1166.8 136.1C1163.8 137.3 1161.9 138.2 1159.3 139.4C1156.7 140.6 1154.1 141.9 1151.4 143.1C1148.7 144.3 1145.5 145.7 1143.1 146.8C1140.6 147.9 1138.9 148.6 1136.7 149.5C1134.5 150.4 1132.2 151.3 1130.0 152.2C1127.8 153.1 1125.5 153.9 1123.2 154.7C1120.9 155.5 1119.0 156.2 1116.4 157.0C1113.8 157.8 1110.4 158.8 1107.4 159.6C1104.4 160.4 1101.2 161.2 1098.3 162.0C1095.4 162.8 1092.6 163.6 1089.8 164.5C1087.0 165.4 1084.3 166.3 1081.7 167.2C1079.1 168.1 1076.5 169.1 1074.0 170.1C1071.5 171.1 1069.0 172.1 1066.6 173.1C1064.2 174.1 1061.8 175.1 1059.5 176.2C1057.2 177.3 1054.9 178.5 1052.8 179.5C1050.7 180.5 1048.9 181.3 1046.8 182.4C1044.7 183.5 1042.1 184.9 1040.1 186.2C1038.1 187.5 1036.5 188.5 1035.0 190.1C1033.5 191.7 1032.2 193.7 1031.0 195.6C1029.8 197.5 1028.8 199.6 1027.8 201.5Z" fill="#d32020"/>
<path d="M848.3 400.9C849.8 398.3 850.5 397.1 851.6 395.2C852.8 393.3 853.9 391.3 855.2 389.4C856.5 387.4 858.1 385.4 859.6 383.5C861.1 381.6 862.8 379.5 864.3 377.8C865.8 376.1 867.2 374.5 868.7 373.1C870.2 371.7 870.8 370.5 873.0 369.3C875.2 368.1 879.2 366.2 881.7 365.9C884.2 365.6 886.2 365.8 888.3 367.4C890.3 369.0 892.5 373.2 894.0 375.5C895.5 377.8 896.2 379.1 897.3 381.0C898.4 382.9 898.9 384.2 900.6 386.7C902.3 389.1 905.5 393.2 907.4 395.7C909.3 398.2 910.9 398.9 912.3 401.5C913.7 404.1 916.0 408.1 916.0 411.0C916.0 413.9 914.4 416.5 912.5 419.1C910.6 421.7 906.9 424.7 904.9 426.5C902.9 428.3 901.9 428.9 900.2 430.0C898.5 431.1 896.7 432.1 894.8 433.2C892.9 434.3 890.9 435.4 888.9 436.4C886.9 437.4 885.8 438.0 883.0 439.2C880.2 440.4 875.6 442.3 872.2 443.5C868.9 444.7 865.8 445.9 862.9 446.5C860.0 447.1 857.2 447.3 854.6 446.9C852.0 446.5 849.3 445.6 847.2 444.1C845.1 442.6 843.4 440.4 842.2 438.1C841.0 435.8 840.3 433.2 839.9 430.3C839.5 427.4 839.5 423.9 839.9 420.6C840.3 417.4 841.1 414.1 842.5 410.8C843.9 407.5 846.8 403.5 848.3 400.9Z" fill="#d32020"/>
<path d="M966.8 350.9C967.3 347.8 968.4 345.8 970.0 343.4C971.6 341.0 973.6 338.7 976.5 336.8C979.4 334.9 984.5 332.9 987.3 331.8C990.1 330.7 991.4 330.6 993.5 330.1C995.6 329.6 997.9 329.2 1000.2 328.8C1002.5 328.4 1005.0 328.1 1007.4 327.9C1009.8 327.7 1012.3 327.6 1014.6 327.5C1016.9 327.4 1019.3 327.5 1021.4 327.6C1023.5 327.8 1025.1 327.6 1027.3 328.4C1029.5 329.2 1033.0 330.7 1034.7 332.5C1036.4 334.3 1037.5 336.8 1037.7 339.4C1037.9 342.0 1037.3 345.2 1036.0 348.1C1034.7 351.1 1031.5 354.9 1029.8 357.1C1028.1 359.3 1027.1 360.1 1025.6 361.5C1024.1 362.9 1022.5 364.3 1020.8 365.6C1019.1 366.9 1017.2 368.3 1015.4 369.5C1013.6 370.7 1011.7 371.8 1009.8 372.8C1007.9 373.8 1006.1 374.7 1004.2 375.5C1002.3 376.3 1000.4 377.1 998.4 377.7C996.4 378.3 994.4 378.9 992.4 379.3C990.4 379.7 989.1 380.2 986.6 380.1C984.1 380.0 979.9 379.9 977.2 378.4C974.5 376.9 972.1 374.0 970.4 371.3C968.7 368.6 967.5 365.4 966.9 362.0C966.3 358.6 966.3 354.0 966.8 350.9Z" fill="#c4161c"/>
<path d="M1041.3 202.6C1039.8 204.9 1039.2 206.4 1038.2 208.3C1037.2 210.2 1036.3 212.4 1035.5 214.3C1034.7 216.2 1034.0 218.0 1033.4 219.8C1032.8 221.6 1032.3 222.5 1031.8 225.3C1031.3 228.1 1030.3 233.2 1030.5 236.6C1030.7 240.0 1031.5 243.1 1033.2 245.5C1034.9 247.9 1038.2 249.9 1040.5 251.0C1042.8 252.1 1044.6 251.7 1046.8 252.1C1049.0 252.5 1051.4 252.8 1053.6 253.2C1055.8 253.6 1057.8 254.2 1059.7 254.8C1061.6 255.4 1062.8 255.6 1065.1 257.0C1067.4 258.4 1071.0 261.1 1073.3 263.5C1075.6 265.9 1077.4 269.0 1079.0 271.7C1080.6 274.4 1081.2 277.5 1083.0 279.8C1084.8 282.1 1086.8 284.2 1089.5 285.4C1092.2 286.6 1095.8 287.2 1099.4 287.0C1103.0 286.8 1108.1 285.2 1111.0 284.3C1113.9 283.4 1114.9 282.6 1116.8 281.6C1118.7 280.6 1120.7 279.5 1122.5 278.4C1124.3 277.3 1126.0 276.2 1127.7 275.0C1129.4 273.8 1131.0 272.5 1132.6 271.1C1134.1 269.8 1135.6 268.4 1137.0 266.9C1138.4 265.4 1139.7 263.9 1141.1 262.2C1142.5 260.5 1143.8 258.5 1145.2 256.6C1146.6 254.8 1147.8 252.7 1149.3 251.1C1150.8 249.5 1152.5 248.5 1154.0 247.1C1155.5 245.7 1157.0 244.7 1158.1 242.8C1159.2 240.9 1159.8 238.2 1160.5 235.9C1161.2 233.6 1161.0 231.4 1162.4 229.1C1163.8 226.8 1167.2 224.1 1168.8 222.1C1170.4 220.1 1170.7 218.8 1171.8 216.8C1172.9 214.8 1174.1 212.5 1175.3 210.3C1176.5 208.1 1177.8 205.8 1179.0 203.6C1180.2 201.4 1181.4 199.4 1182.6 197.2C1183.8 195.0 1184.9 192.8 1186.1 190.6C1187.3 188.4 1188.5 186.3 1189.6 184.1C1190.7 181.9 1191.8 179.7 1192.8 177.5C1193.8 175.3 1194.9 173.0 1195.8 170.9C1196.7 168.8 1197.5 167.2 1198.4 164.7C1199.3 162.2 1200.3 158.6 1201.0 155.8C1201.7 153.1 1202.5 151.1 1202.6 148.2C1202.7 145.3 1202.6 140.9 1201.4 138.5C1200.2 136.1 1198.3 134.4 1195.3 133.7C1192.3 133.0 1186.7 133.8 1183.2 134.4C1179.7 135.0 1177.6 135.9 1174.4 137.1C1171.2 138.2 1167.1 140.0 1164.1 141.3C1161.1 142.6 1159.1 143.6 1156.4 145.0C1153.8 146.4 1151.0 148.0 1148.2 149.5C1145.4 151.0 1142.3 152.6 1139.8 153.8C1137.3 155.1 1135.4 156.0 1133.2 157.0C1131.0 158.0 1128.7 159.0 1126.4 160.0C1124.1 161.0 1121.8 162.1 1119.5 163.0C1117.2 163.9 1115.0 164.8 1112.8 165.7C1110.5 166.6 1108.3 167.4 1106.0 168.2C1103.7 169.0 1101.4 169.7 1099.2 170.4C1097.0 171.2 1094.7 171.9 1092.6 172.7C1090.5 173.5 1088.7 174.1 1086.4 175.1C1084.1 176.1 1081.2 177.3 1078.8 178.4C1076.3 179.5 1074.0 180.5 1071.7 181.6C1069.4 182.7 1067.3 183.7 1065.1 184.8C1062.9 185.9 1060.6 187.0 1058.4 188.1C1056.2 189.2 1054.1 190.2 1052.2 191.3C1050.3 192.4 1049.0 192.5 1047.2 194.4C1045.4 196.3 1042.8 200.3 1041.3 202.6Z" fill="#c4161c"/>
<path d="M851.3 401.0C853.3 398.5 855.1 396.2 857.5 394.0C859.9 391.8 862.9 389.4 865.6 387.7C868.4 386.0 871.5 384.6 874.0 383.9C876.5 383.2 878.4 382.9 880.6 383.5C882.8 384.1 885.0 385.5 887.0 387.2C889.0 388.9 891.0 391.5 892.9 393.7C894.8 395.9 896.8 398.3 898.3 400.2C899.8 402.1 901.0 403.2 901.8 405.1C902.6 407.0 903.4 409.2 903.1 411.7C902.9 414.2 901.8 417.4 900.3 420.0C898.8 422.6 896.7 425.1 894.1 427.5C891.5 429.9 888.0 432.3 884.8 434.3C881.6 436.3 877.9 437.9 874.7 439.3C871.5 440.7 868.4 441.9 865.4 442.7C862.4 443.5 859.7 444.1 857.0 444.0C854.3 443.9 851.5 443.4 849.4 442.1C847.3 440.8 845.7 438.5 844.5 436.3C843.3 434.1 842.5 431.8 842.1 428.9C841.7 426.0 841.7 422.4 842.3 419.1C842.9 415.8 844.0 412.2 845.5 409.2C847.0 406.2 849.3 403.5 851.3 401.0Z" fill="#c4161c"/>
<path d="M870.6 397.7C873.4 397.7 876.7 399.2 878.9 400.2C881.1 401.2 882.4 402.0 883.9 403.5C885.4 405.0 887.1 407.2 888.0 409.4C888.9 411.6 889.4 414.4 889.3 416.9C889.2 419.4 888.6 422.0 887.3 424.4C886.0 426.8 883.6 429.1 881.4 431.0C879.2 432.9 876.5 434.7 873.9 436.0C871.3 437.3 868.3 438.5 865.7 438.9C863.1 439.3 860.4 439.2 858.2 438.3C856.0 437.4 853.9 435.8 852.5 433.6C851.1 431.4 850.1 428.4 850.0 425.3C849.9 422.2 851.0 418.4 852.1 415.3C853.2 412.2 854.9 409.5 856.6 407.0C858.3 404.5 860.1 401.9 862.4 400.3C864.7 398.8 867.9 397.7 870.6 397.7Z" fill="#8e0912"/>
<path d="M1055.5 220.6C1055.7 218.2 1058.1 213.3 1059.5 210.9C1060.9 208.5 1062.2 207.6 1063.9 206.0C1065.6 204.4 1067.5 202.8 1069.5 201.3C1071.5 199.8 1073.5 198.5 1075.7 197.2C1077.9 195.9 1080.2 194.6 1082.7 193.3C1085.2 192.1 1087.9 190.9 1090.6 189.7C1093.3 188.5 1096.2 187.2 1098.9 185.9C1101.6 184.6 1104.2 183.3 1106.9 181.9C1109.6 180.5 1112.5 179.2 1115.2 177.7C1118.0 176.2 1120.7 174.6 1123.4 172.9C1126.2 171.2 1129.4 169.0 1131.7 167.4C1134.0 165.8 1135.4 164.7 1137.2 163.2C1139.0 161.7 1140.9 160.0 1142.8 158.5C1144.7 157.0 1146.1 156.0 1148.5 154.4C1150.9 152.8 1154.5 150.6 1157.3 149.0C1160.1 147.4 1163.0 145.9 1165.6 144.7C1168.2 143.4 1170.6 142.4 1172.9 141.5C1175.2 140.6 1176.6 139.7 1179.3 139.4C1182.0 139.1 1186.8 138.7 1189.3 139.6C1191.8 140.5 1193.4 142.4 1194.2 144.9C1195.0 147.4 1194.3 151.9 1193.9 154.7C1193.5 157.5 1192.7 159.1 1191.8 161.5C1190.9 163.9 1189.9 166.6 1188.8 169.2C1187.7 171.8 1186.4 174.3 1185.0 177.0C1183.6 179.7 1181.8 183.0 1180.5 185.4C1179.2 187.8 1178.3 189.2 1177.2 191.2C1176.1 193.2 1174.9 195.4 1173.7 197.5C1172.5 199.6 1171.3 201.5 1170.1 203.5C1168.8 205.5 1167.5 207.4 1166.2 209.4C1164.9 211.4 1163.3 213.4 1162.0 215.3C1160.7 217.2 1159.7 218.7 1158.2 220.7C1156.7 222.7 1154.5 225.4 1152.8 227.5C1151.1 229.6 1149.5 231.6 1147.9 233.4C1146.4 235.2 1144.9 236.9 1143.5 238.4C1142.1 239.9 1141.4 240.7 1139.4 242.7C1137.4 244.7 1134.0 248.1 1131.6 250.4C1129.1 252.7 1127.2 254.9 1124.7 256.7C1122.2 258.4 1119.5 260.2 1116.5 260.9C1113.5 261.6 1109.6 261.4 1106.6 260.9C1103.6 260.4 1100.9 259.3 1098.3 257.7C1095.7 256.1 1093.3 253.5 1090.8 251.0C1088.3 248.5 1085.3 244.8 1083.3 242.8C1081.2 240.8 1080.2 240.0 1078.5 238.8C1076.8 237.6 1075.8 236.8 1073.4 235.4C1071.0 234.0 1066.8 232.2 1064.3 230.5C1061.8 228.8 1059.7 227.2 1058.2 225.5C1056.7 223.8 1055.3 223.0 1055.5 220.6Z" fill="#8e0912"/>
</g>
<path d="M755.5 542.5v4.86" stroke="#000" stroke-width="1.11"/>
<text x="755.60" y="562" font-size="13.889" text-anchor="middle">−0.2</text>
<path d="M734.5 523.5h-4.86" stroke="#000" stroke-width="1.11"/>
<text x="724.48" y="529.38" font-size="13.889" text-anchor="end">−0.2</text>
<path d="M832.5 542.5v4.86" stroke="#000" stroke-width="1.11"/>
<text x="832.28" y="562" font-size="13.889" text-anchor="middle">0.0</text>
<path d="M734.5 457.5h-4.86" stroke="#000" stroke-width="1.11"/>
<text x="724.48" y="462.49" font-size="13.889" text-anchor="end">0.0</text>
<path d="M909.5 542.5v4.86" stroke="#000" stroke-width="1.11"/>
<text x="908.97" y="562" font-size="13.889" text-anchor="middle">0.2</text>
<path d="M734.5 390.5h-4.86" stroke="#000" stroke-width="1.11"/>
<text x="724.48" y="395.61" font-size="13.889" text-anchor="end">0.2</text>
<path d="M985.5 542.5v4.86" stroke="#000" stroke-width="1.11"/>
<text x="985.66" y="562" font-size="13.889" text-anchor="middle">0.4</text>
<path d="M734.5 323.5h-4.86" stroke="#000" stroke-width="1.11"/>
<text x="724.48" y="328.72" font-size="13.889" text-anchor="end">0.4</text>
<path d="M1062.5 542.5v4.86" stroke="#000" stroke-width="1.11"/>
<text x="1062.34" y="562" font-size="13.889" text-anchor="middle">0.6</text>
<path d="M734.5 256.5h-4.86" stroke="#000" stroke-width="1.11"/>
<text x="724.48" y="261.84" font-size="13.889" text-anchor="end">0.6</text>
<path d="M1139.5 542.5v4.86" stroke="#000" stroke-width="1.11"/>
<text x="1139.03" y="562" font-size="13.889" text-anchor="middle">0.8</text>
<path d="M734.5 189.5h-4.86" stroke="#000" stroke-width="1.11"/>
<text x="724.48" y="194.95" font-size="13.889" text-anchor="end">0.8</text>
<path d="M1215.5 542.5v4.86" stroke="#000" stroke-width="1.11"/>
<text x="1215.72" y="562" font-size="13.889" text-anchor="middle">1.0</text>
<path d="M734.5 123.5h-4.86" stroke="#000" stroke-width="1.11"/>
<text x="724.48" y="128.07" font-size="13.889" text-anchor="end">1.0</text>
<path d="M1292.5 542.5v4.86" stroke="#000" stroke-width="1.11"/>
<text x="1292.40" y="562" font-size="13.889" text-anchor="middle">1.2</text>
<path d="M734.5 56.5h-4.86" stroke="#000" stroke-width="1.11"/>
<text x="724.48" y="61.18" font-size="13.889" text-anchor="end">1.2</text>
<rect x="734.5" y="37.5" width="579.0" height="505.0" fill="none" stroke="#000" stroke-width="1.11"/>
<text transform="translate(1023.70 29) scale(1 1.08)" font-size="16.667" text-anchor="middle">Simulated Uniform Data</text>
<text x="1023.70" y="581.9" font-size="13.889" text-anchor="middle">DWJ</text>
<text transform="translate(682.72 292) rotate(-90)" font-size="13.889" text-anchor="middle">10Y_TBY</text>
<text class="m" xml:space="preserve" x="1391" y="47.64" font-size="13.889">               DWJ      10Y_TBY</text>
<text class="m" xml:space="preserve" x="1391" y="64.64" font-size="13.889">count  1507.000000  1507.000000</text>
<text class="m" xml:space="preserve" x="1391" y="80.64" font-size="13.889">mean      0.500000     0.500000</text>
<text class="m" xml:space="preserve" x="1391" y="96.64" font-size="13.889">std       0.288579     0.288578</text>
<text class="m" xml:space="preserve" x="1391" y="112.64" font-size="13.889">min       0.000663     0.000663</text>
<text class="m" xml:space="preserve" x="1391" y="128.64" font-size="13.889">25%       0.250332     0.250332</text>
<text class="m" xml:space="preserve" x="1391" y="145.64" font-size="13.889">50%       0.500000     0.499005</text>
<text class="m" xml:space="preserve" x="1391" y="161.64" font-size="13.889">75%       0.749668     0.749668</text>
<text class="m" xml:space="preserve" x="1391" y="177.64" font-size="13.889">max       0.999337     0.999337</text>
<text class="m" xml:space="preserve" x="1391" y="209.64" font-size="13.889">Kendall Tau:</text>
<text class="m" xml:space="preserve" x="1391" y="225.64" font-size="13.889">Original: 0.2399 (p=3.2258e-44)</text>
<text class="m" xml:space="preserve" x="1391" y="241.64" font-size="13.889">Uniform:  0.2399 (p=3.2258e-44)</text>
<text class="m" xml:space="preserve" x="1391" y="257.64" font-size="13.889">Simulated:0.2750 (p=1.4106e-57)</text>
</svg>
</body></html>
